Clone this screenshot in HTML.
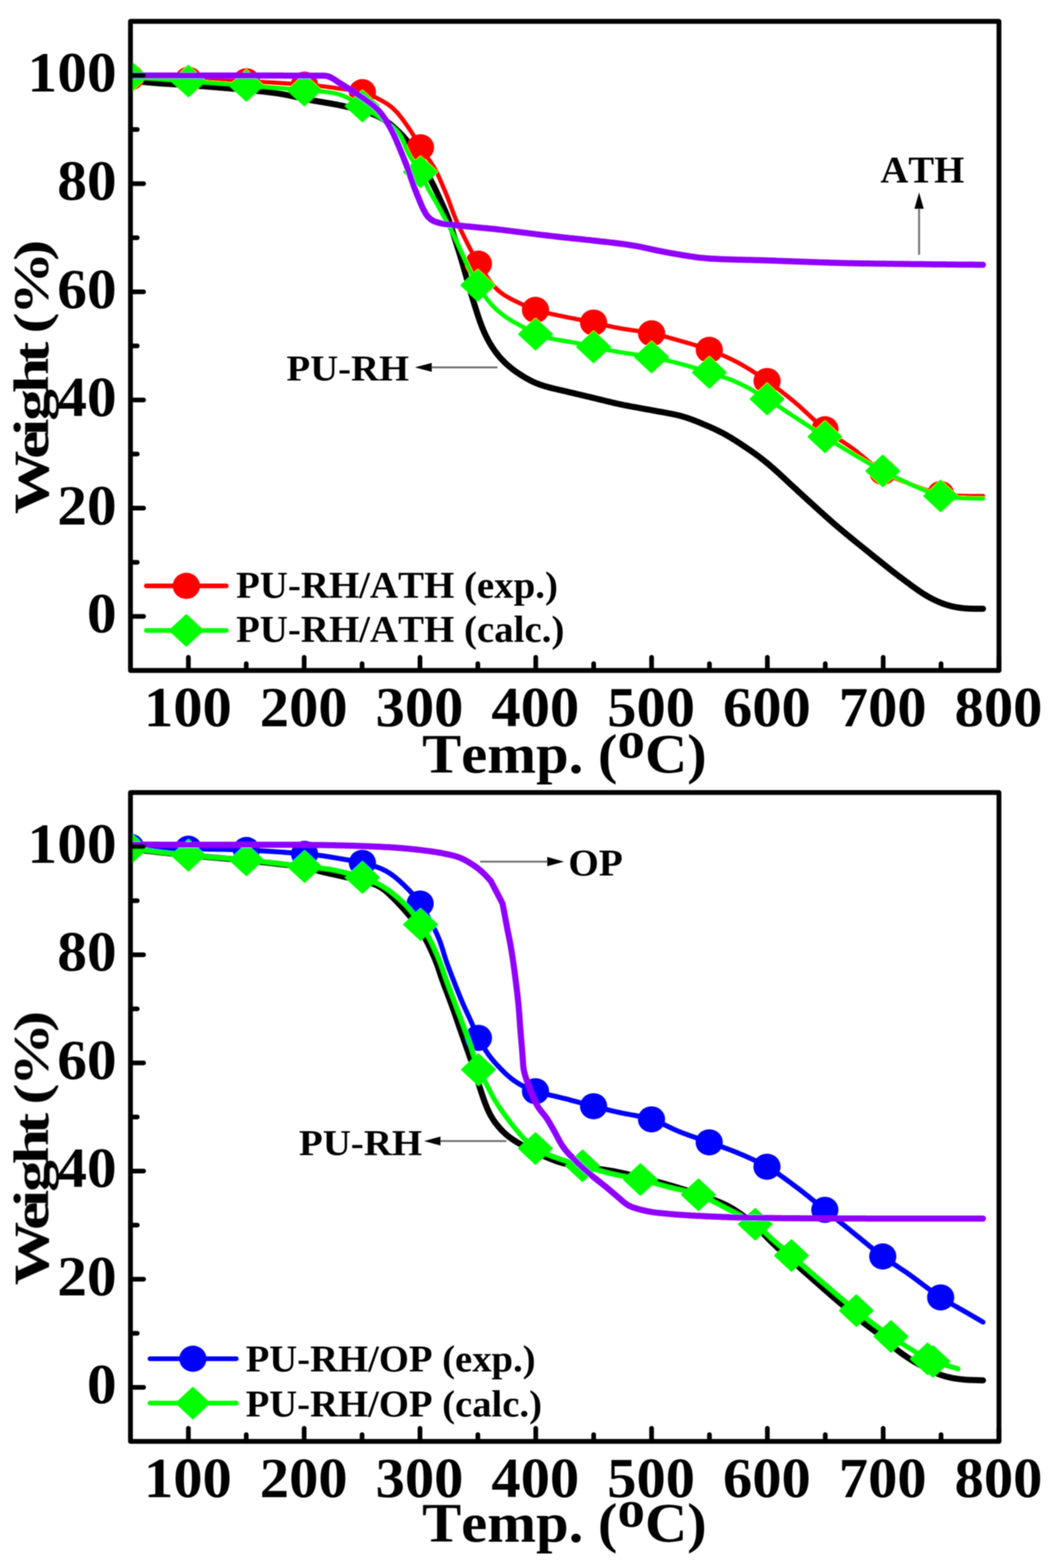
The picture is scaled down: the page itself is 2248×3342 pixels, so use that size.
<!DOCTYPE html>
<html lang="en"><head><meta charset="utf-8"><title>TGA curves</title>
<style>html,body{margin:0;padding:0;background:#fff;overflow:hidden;}svg{display:block;}text{font-family:"Liberation Serif","DejaVu Serif",serif;font-weight:bold;fill:#000;font-kerning:none;}</style>
</head><body>
<svg xmlns="http://www.w3.org/2000/svg" width="2248" height="3342" viewBox="0 0 2248 3342">
<rect width="2248" height="3342" fill="#fff"/>
<defs><filter id="b" x="-2%" y="-2%" width="104%" height="104%"><feGaussianBlur stdDeviation="1.0"/></filter></defs>
<g filter="url(#b)">
<g id="top">
<clipPath id="clip_top"><rect x="278.0" y="45.5" width="1850.6" height="1383.5"/></clipPath>
<g clip-path="url(#clip_top)" fill="none" stroke-linecap="round" stroke-linejoin="round">
<path d="M278.0,172.0 282.0,172.4 286.0,172.8 289.9,173.2 293.9,173.6 297.9,174.0 301.9,174.3 305.9,174.7 309.9,175.1 313.8,175.5 317.8,175.8 321.8,176.1 325.8,176.5 329.8,176.8 333.8,177.1 337.8,177.4 341.8,177.7 345.7,177.9 349.7,178.2 353.7,178.5 357.7,178.8 361.7,179.0 365.7,179.3 369.7,179.5 373.7,179.8 377.7,180.1 381.7,180.3 385.7,180.6 389.7,180.8 393.7,181.1 397.6,181.3 401.6,181.6 405.6,181.9 409.6,182.1 413.6,182.4 417.6,182.7 421.6,183.0 425.6,183.2 429.6,183.5 433.6,183.8 437.6,184.1 441.5,184.4 445.5,184.7 449.5,185.1 453.5,185.4 457.5,185.7 461.5,186.0 465.5,186.4 469.5,186.7 473.4,187.0 477.4,187.4 481.4,187.7 485.4,188.0 489.4,188.4 493.4,188.7 497.4,189.0 501.3,189.4 505.3,189.7 509.3,190.1 513.3,190.4 517.3,190.8 521.3,191.1 525.3,191.5 529.2,191.8 533.2,192.2 537.2,192.6 541.2,193.0 545.2,193.4 549.1,193.8 553.1,194.2 557.1,194.6 561.1,195.1 565.1,195.5 569.0,196.0 573.0,196.5 577.0,197.0 580.9,197.5 584.9,198.0 588.9,198.6 592.8,199.2 596.8,199.9 600.7,200.5 604.6,201.2 608.6,202.0 612.5,202.7 616.4,203.5 620.3,204.4 624.2,205.2 628.2,206.1 632.1,207.0 636.0,207.8 639.9,208.7 643.8,209.6 647.7,210.4 651.6,211.3 655.5,212.1 659.4,212.8 663.4,213.6 667.3,214.3 671.2,215.0 675.2,215.7 679.1,216.3 683.1,217.0 687.0,217.6 691.0,218.3 694.9,219.0 698.9,219.6 702.8,220.3 706.7,221.0 710.7,221.8 714.6,222.5 718.5,223.2 722.5,224.0 726.4,224.8 730.3,225.6 734.2,226.5 738.1,227.4 742.0,228.3 745.9,229.2 749.8,230.1 753.7,231.1 757.6,232.0 761.4,233.0 765.3,234.0 769.2,235.0 773.0,236.1 776.9,237.2 780.7,238.4 784.5,239.6 788.3,240.9 792.1,242.2 795.8,243.7 799.5,245.2 803.1,246.9 806.7,248.6 810.3,250.5 813.7,252.4 817.2,254.5 820.6,256.6 823.9,258.9 827.1,261.2 830.3,263.6 833.4,266.2 836.4,268.8 839.4,271.4 842.4,274.1 845.3,276.9 848.2,279.6 851.1,282.4 853.9,285.2 856.7,288.1 859.5,291.0 862.1,294.0 864.7,297.0 867.3,300.0 869.7,303.2 872.0,306.4 874.3,309.7 876.4,313.1 878.5,316.5 880.5,320.0 882.5,323.4 884.5,326.9 886.5,330.4 888.5,333.9 890.5,337.3 892.6,340.8 894.6,344.2 896.6,347.7 898.7,351.1 900.7,354.5 902.7,358.0 904.8,361.4 906.8,364.9 908.9,368.3 910.9,371.8 912.9,375.2 914.8,378.7 916.8,382.2 918.7,385.7 920.6,389.3 922.4,392.8 924.2,396.4 926.0,400.0 927.7,403.6 929.4,407.2 931.1,410.8 932.7,414.5 934.4,418.1 936.0,421.8 937.7,425.4 939.3,429.0 941.0,432.7 942.7,436.3 944.3,440.0 945.9,443.6 947.6,447.3 949.1,451.0 950.7,454.7 952.2,458.4 953.7,462.1 955.1,465.8 956.5,469.6 957.8,473.3 959.1,477.1 960.3,480.9 961.6,484.7 962.8,488.5 964.0,492.4 965.2,496.2 966.4,500.0 967.6,503.8 968.8,507.6 970.0,511.4 971.3,515.2 972.5,519.0 973.7,522.9 974.9,526.7 976.1,530.5 977.3,534.3 978.5,538.1 979.7,541.9 980.9,545.8 982.0,549.6 983.2,553.4 984.3,557.3 985.4,561.1 986.6,564.9 987.7,568.8 988.8,572.6 989.9,576.5 991.0,580.3 992.1,584.2 993.2,588.0 994.3,591.9 995.4,595.7 996.5,599.6 997.6,603.4 998.6,607.3 999.7,611.1 1000.8,615.0 1001.9,618.8 1003.0,622.6 1004.1,626.5 1005.3,630.3 1006.4,634.2 1007.6,638.0 1008.7,641.8 1009.9,645.7 1011.1,649.5 1012.3,653.3 1013.5,657.1 1014.7,660.9 1015.9,664.7 1017.1,668.5 1018.4,672.3 1019.6,676.1 1020.9,679.9 1022.2,683.7 1023.6,687.5 1025.0,691.2 1026.4,695.0 1027.8,698.7 1029.4,702.4 1030.9,706.1 1032.6,709.7 1034.2,713.3 1036.0,716.9 1037.8,720.5 1039.6,724.1 1041.6,727.6 1043.5,731.1 1045.6,734.5 1047.7,737.9 1049.8,741.3 1052.1,744.6 1054.4,747.9 1056.7,751.1 1059.2,754.3 1061.7,757.4 1064.3,760.4 1066.9,763.4 1069.6,766.4 1072.4,769.3 1075.2,772.1 1078.1,774.9 1081.0,777.6 1084.0,780.2 1087.1,782.8 1090.2,785.3 1093.4,787.8 1096.6,790.2 1099.8,792.5 1103.1,794.7 1106.5,797.0 1109.8,799.1 1113.2,801.2 1116.6,803.3 1120.1,805.3 1123.6,807.3 1127.1,809.2 1130.6,811.1 1134.2,812.9 1137.8,814.6 1141.5,816.2 1145.2,817.7 1148.9,819.1 1152.7,820.5 1156.5,821.7 1160.3,822.9 1164.1,824.0 1168.0,825.1 1171.9,826.1 1175.7,827.1 1179.6,828.1 1183.5,829.0 1187.4,829.9 1191.3,830.8 1195.2,831.7 1199.1,832.6 1203.0,833.5 1206.9,834.4 1210.8,835.4 1214.7,836.3 1218.6,837.2 1222.5,838.1 1226.4,839.1 1230.3,840.0 1234.1,840.9 1238.0,841.8 1241.9,842.7 1245.8,843.7 1249.7,844.6 1253.6,845.5 1257.5,846.4 1261.4,847.4 1265.3,848.3 1269.2,849.2 1273.1,850.2 1276.9,851.1 1280.8,852.1 1284.7,853.0 1288.6,854.0 1292.5,855.0 1296.4,855.9 1300.3,856.8 1304.2,857.8 1308.1,858.7 1312.0,859.6 1315.9,860.5 1319.8,861.3 1323.7,862.2 1327.6,863.0 1331.5,863.8 1335.4,864.5 1339.4,865.3 1343.3,866.0 1347.2,866.8 1351.2,867.5 1355.1,868.2 1359.0,868.9 1363.0,869.6 1366.9,870.3 1370.8,871.1 1374.8,871.8 1378.7,872.5 1382.7,873.2 1386.6,873.9 1390.5,874.6 1394.5,875.4 1398.4,876.1 1402.3,876.8 1406.3,877.5 1410.2,878.2 1414.1,878.9 1418.1,879.6 1422.0,880.4 1425.9,881.1 1429.9,881.9 1433.8,882.6 1437.7,883.5 1441.6,884.3 1445.5,885.3 1449.4,886.2 1453.2,887.3 1457.1,888.4 1460.9,889.6 1464.7,890.8 1468.5,892.1 1472.2,893.5 1476.0,894.9 1479.7,896.3 1483.4,897.8 1487.2,899.3 1490.9,900.8 1494.6,902.3 1498.3,903.9 1502.0,905.4 1505.6,907.0 1509.3,908.5 1513.0,910.1 1516.6,911.8 1520.3,913.4 1523.9,915.1 1527.5,916.8 1531.1,918.6 1534.7,920.4 1538.2,922.2 1541.8,924.1 1545.3,926.0 1548.8,928.0 1552.2,930.0 1555.7,932.0 1559.1,934.1 1562.5,936.2 1565.9,938.3 1569.3,940.5 1572.6,942.6 1576.0,944.8 1579.3,947.0 1582.6,949.2 1586.0,951.5 1589.3,953.7 1592.6,955.9 1595.9,958.2 1599.2,960.4 1602.5,962.7 1605.8,965.0 1609.1,967.3 1612.3,969.7 1615.5,972.0 1618.7,974.5 1621.9,976.9 1625.0,979.4 1628.2,981.8 1631.3,984.4 1634.4,986.9 1637.5,989.4 1640.5,992.0 1643.5,994.6 1646.6,997.2 1649.6,999.9 1652.6,1002.6 1655.5,1005.2 1658.5,1007.9 1661.4,1010.6 1664.4,1013.4 1667.3,1016.1 1670.2,1018.8 1673.2,1021.5 1676.1,1024.2 1679.0,1026.9 1682.0,1029.7 1684.9,1032.4 1687.8,1035.1 1690.8,1037.8 1693.7,1040.5 1696.7,1043.2 1699.6,1046.0 1702.5,1048.7 1705.5,1051.4 1708.4,1054.1 1711.4,1056.8 1714.3,1059.5 1717.3,1062.2 1720.2,1064.9 1723.2,1067.6 1726.1,1070.3 1729.1,1073.0 1732.1,1075.7 1735.0,1078.4 1738.0,1081.1 1740.9,1083.8 1743.9,1086.5 1746.8,1089.1 1749.8,1091.8 1752.8,1094.5 1755.8,1097.2 1758.7,1099.9 1761.7,1102.5 1764.7,1105.2 1767.7,1107.9 1770.7,1110.5 1773.7,1113.1 1776.7,1115.8 1779.7,1118.4 1782.8,1121.0 1785.8,1123.6 1788.8,1126.2 1791.9,1128.8 1795.0,1131.3 1798.0,1133.9 1801.1,1136.5 1804.2,1139.0 1807.3,1141.6 1810.4,1144.1 1813.5,1146.6 1816.6,1149.1 1819.7,1151.7 1822.8,1154.2 1825.9,1156.7 1829.0,1159.2 1832.1,1161.7 1835.2,1164.2 1838.4,1166.8 1841.5,1169.3 1844.6,1171.8 1847.7,1174.3 1850.8,1176.8 1853.9,1179.3 1857.0,1181.9 1860.1,1184.4 1863.2,1186.9 1866.4,1189.4 1869.5,1191.9 1872.6,1194.4 1875.7,1196.9 1878.8,1199.4 1882.0,1201.9 1885.1,1204.4 1888.2,1206.9 1891.4,1209.4 1894.5,1211.9 1897.6,1214.3 1900.8,1216.8 1903.9,1219.3 1907.1,1221.7 1910.3,1224.1 1913.5,1226.6 1916.6,1229.0 1919.8,1231.4 1923.0,1233.8 1926.3,1236.2 1929.5,1238.6 1932.7,1241.0 1935.9,1243.3 1939.1,1245.7 1942.3,1248.1 1945.6,1250.5 1948.8,1252.8 1952.1,1255.1 1955.3,1257.4 1958.6,1259.7 1961.9,1261.9 1965.3,1264.1 1968.7,1266.3 1972.1,1268.4 1975.5,1270.4 1979.0,1272.4 1982.5,1274.3 1986.0,1276.2 1989.6,1278.0 1993.2,1279.8 1996.8,1281.4 2000.5,1283.0 2004.2,1284.5 2007.9,1286.0 2011.7,1287.3 2015.5,1288.6 2019.3,1289.8 2023.1,1290.9 2027.0,1291.9 2030.9,1292.8 2034.8,1293.6 2038.8,1294.3 2042.7,1295.0 2046.7,1295.5 2050.6,1296.0 2054.6,1296.4 2058.6,1296.7 2062.6,1297.0 2066.6,1297.2 2070.6,1297.3 2074.6,1297.4 2078.6,1297.5 2082.6,1297.5 2086.6,1297.5 2090.6,1297.5 2094.6,1297.6" stroke="#000" stroke-width="13"/>
<path d="M278.0,165.0 282.0,165.2 286.0,165.3 290.0,165.5 294.0,165.7 298.0,165.8 302.0,166.0 306.0,166.2 310.0,166.3 314.0,166.5 318.0,166.7 322.0,166.8 326.0,167.0 330.0,167.2 334.0,167.4 338.0,167.5 342.0,167.7 346.0,167.9 350.0,168.0 354.0,168.2 358.0,168.4 362.0,168.5 365.9,168.7 369.9,168.8 373.9,169.0 377.9,169.2 381.9,169.3 385.9,169.5 389.9,169.6 393.9,169.7 397.9,169.9 401.9,170.0 405.9,170.1 409.9,170.3 413.9,170.4 417.9,170.5 421.9,170.6 425.9,170.7 429.9,170.8 433.9,170.9 437.9,171.0 441.9,171.1 445.9,171.2 449.9,171.2 453.9,171.3 457.9,171.4 461.9,171.5 465.9,171.6 469.9,171.7 473.9,171.7 477.9,171.8 481.9,171.9 485.9,172.0 489.9,172.1 493.9,172.2 497.9,172.3 501.9,172.5 505.9,172.6 509.9,172.7 513.9,172.9 517.9,173.0 521.9,173.2 525.9,173.3 529.9,173.5 533.9,173.7 537.9,173.9 541.9,174.1 545.9,174.3 549.9,174.5 553.9,174.7 557.9,174.9 561.9,175.1 565.9,175.3 569.9,175.5 573.9,175.7 577.9,176.0 581.9,176.2 585.9,176.4 589.9,176.7 593.9,176.9 597.8,177.1 601.8,177.4 605.8,177.6 609.8,177.9 613.8,178.1 617.8,178.4 621.8,178.6 625.8,178.9 629.8,179.2 633.8,179.4 637.8,179.7 641.8,180.0 645.8,180.3 649.7,180.6 653.7,180.9 657.7,181.2 661.7,181.5 665.7,181.8 669.7,182.2 673.7,182.6 677.7,183.0 681.6,183.4 685.6,183.8 689.6,184.3 693.6,184.8 697.5,185.3 701.5,185.8 705.5,186.3 709.4,186.9 713.4,187.4 717.3,188.0 721.3,188.5 725.3,189.0 729.3,189.5 733.2,190.0 737.2,190.5 741.2,191.0 745.1,191.5 749.1,192.0 753.1,192.6 757.0,193.2 761.0,193.9 764.9,194.8 768.7,195.7 772.6,196.7 776.4,197.9 780.2,199.2 784.0,200.5 787.7,202.0 791.4,203.6 795.0,205.2 798.7,206.9 802.3,208.7 805.8,210.5 809.4,212.3 812.9,214.2 816.4,216.2 819.8,218.3 823.2,220.4 826.6,222.6 829.8,224.9 833.0,227.4 836.0,229.9 839.0,232.6 841.8,235.4 844.6,238.2 847.3,241.2 849.9,244.3 852.4,247.4 854.8,250.5 857.3,253.7 859.7,256.9 862.0,260.2 864.4,263.4 866.7,266.7 869.0,270.0 871.2,273.3 873.5,276.6 875.7,279.9 877.8,283.3 879.9,286.7 882.0,290.1 884.0,293.6 886.0,297.0 888.0,300.5 890.1,304.0 892.1,307.4 894.2,310.8 896.3,314.2 898.4,317.6 900.6,320.9 902.8,324.3 905.1,327.6 907.4,330.9 909.6,334.1 911.9,337.4 914.2,340.7 916.5,344.0 918.8,347.3 920.9,350.7 923.1,354.0 925.2,357.5 927.1,360.9 929.0,364.4 930.9,368.0 932.6,371.6 934.3,375.2 935.9,378.9 937.6,382.5 939.1,386.2 940.7,389.9 942.3,393.6 943.8,397.3 945.4,400.9 947.0,404.6 948.6,408.3 950.1,412.0 951.6,415.7 953.1,419.4 954.6,423.1 956.0,426.9 957.4,430.6 958.7,434.4 960.1,438.1 961.4,441.9 962.8,445.7 964.2,449.4 965.6,453.2 967.0,456.9 968.5,460.6 970.0,464.3 971.6,468.0 973.2,471.7 974.8,475.3 976.5,479.0 978.2,482.6 979.9,486.2 981.6,489.8 983.4,493.4 985.1,497.0 986.9,500.6 988.6,504.2 990.4,507.8 992.2,511.4 994.0,515.0 995.7,518.5 997.5,522.1 999.4,525.7 1001.2,529.2 1003.0,532.8 1004.9,536.3 1006.8,539.9 1008.7,543.4 1010.6,546.9 1012.6,550.4 1014.6,553.8 1016.6,557.3 1018.6,560.7 1020.7,564.2 1022.8,567.6 1024.9,571.0 1027.1,574.3 1029.2,577.7 1031.4,581.1 1033.6,584.4 1035.8,587.8 1038.0,591.1 1040.3,594.4 1042.6,597.7 1045.0,600.9 1047.4,604.0 1050.0,607.1 1052.6,610.1 1055.3,613.0 1058.2,615.8 1061.1,618.6 1064.1,621.2 1067.2,623.7 1070.4,626.1 1073.7,628.4 1077.1,630.5 1080.5,632.6 1084.0,634.6 1087.5,636.5 1091.0,638.4 1094.6,640.2 1098.2,641.9 1101.8,643.7 1105.4,645.4 1109.1,647.1 1112.7,648.7 1116.3,650.4 1120.0,652.0 1123.6,653.7 1127.3,655.2 1131.0,656.7 1134.8,658.2 1138.5,659.6 1142.3,660.8 1146.1,662.0 1149.9,663.2 1153.8,664.2 1157.7,665.2 1161.6,666.2 1165.5,667.1 1169.4,668.0 1173.3,668.8 1177.2,669.7 1181.1,670.5 1185.0,671.3 1188.9,672.2 1192.8,673.0 1196.8,673.8 1200.7,674.6 1204.6,675.4 1208.5,676.2 1212.4,677.0 1216.4,677.7 1220.3,678.5 1224.2,679.3 1228.1,680.1 1232.1,680.8 1236.0,681.6 1239.9,682.4 1243.8,683.2 1247.8,684.0 1251.7,684.8 1255.6,685.7 1259.5,686.5 1263.4,687.3 1267.3,688.2 1271.2,689.0 1275.1,689.9 1279.0,690.8 1282.9,691.7 1286.9,692.6 1290.8,693.4 1294.7,694.3 1298.6,695.2 1302.5,696.0 1306.4,696.9 1310.3,697.7 1314.2,698.4 1318.2,699.2 1322.1,699.9 1326.0,700.6 1330.0,701.2 1333.9,701.8 1337.9,702.4 1341.9,703.0 1345.8,703.6 1349.8,704.1 1353.7,704.7 1357.7,705.3 1361.7,705.9 1365.6,706.5 1369.6,707.1 1373.5,707.7 1377.5,708.4 1381.4,709.2 1385.3,709.9 1389.2,710.7 1393.2,711.5 1397.1,712.4 1401.0,713.3 1404.8,714.3 1408.7,715.2 1412.6,716.2 1416.5,717.3 1420.3,718.3 1424.2,719.3 1428.0,720.4 1431.9,721.5 1435.8,722.6 1439.6,723.7 1443.5,724.8 1447.3,725.9 1451.1,727.0 1455.0,728.0 1458.8,729.1 1462.7,730.2 1466.5,731.3 1470.4,732.4 1474.2,733.6 1478.1,734.7 1481.9,735.8 1485.7,737.0 1489.5,738.2 1493.4,739.4 1497.2,740.7 1500.9,742.0 1504.7,743.3 1508.5,744.6 1512.2,746.0 1516.0,747.4 1519.7,748.9 1523.4,750.3 1527.2,751.8 1530.9,753.4 1534.5,754.9 1538.2,756.5 1541.9,758.1 1545.5,759.7 1549.2,761.4 1552.8,763.1 1556.4,764.8 1560.0,766.5 1563.6,768.3 1567.2,770.1 1570.7,772.0 1574.2,773.9 1577.7,775.8 1581.2,777.8 1584.7,779.8 1588.1,781.8 1591.6,783.9 1595.0,785.9 1598.4,788.0 1601.8,790.2 1605.1,792.3 1608.5,794.5 1611.9,796.7 1615.2,798.9 1618.5,801.1 1621.8,803.4 1625.1,805.6 1628.4,807.9 1631.7,810.2 1635.0,812.5 1638.3,814.8 1641.6,817.1 1644.8,819.4 1648.0,821.7 1651.3,824.1 1654.5,826.5 1657.7,828.9 1660.9,831.3 1664.1,833.7 1667.2,836.2 1670.4,838.6 1673.6,841.1 1676.7,843.6 1679.8,846.0 1682.9,848.6 1686.0,851.1 1689.1,853.6 1692.2,856.2 1695.3,858.8 1698.3,861.4 1701.3,864.0 1704.3,866.7 1707.3,869.4 1710.2,872.1 1713.1,874.8 1716.1,877.5 1719.0,880.3 1721.9,883.0 1724.8,885.7 1727.7,888.5 1730.7,891.2 1733.6,893.9 1736.5,896.6 1739.5,899.3 1742.5,902.0 1745.5,904.7 1748.5,907.3 1751.6,909.9 1754.6,912.4 1757.8,914.9 1760.9,917.4 1764.1,919.8 1767.3,922.2 1770.5,924.5 1773.8,926.9 1777.1,929.1 1780.4,931.4 1783.7,933.6 1787.0,935.9 1790.4,938.1 1793.7,940.3 1797.0,942.5 1800.4,944.7 1803.7,947.0 1807.0,949.2 1810.3,951.5 1813.6,953.8 1816.8,956.1 1820.0,958.5 1823.2,960.9 1826.4,963.3 1829.5,965.8 1832.6,968.3 1835.7,970.9 1838.8,973.4 1841.9,976.0 1844.9,978.6 1848.0,981.2 1851.0,983.8 1854.1,986.3 1857.2,988.9 1860.3,991.4 1863.5,993.8 1866.7,996.2 1869.9,998.6 1873.2,1000.9 1876.5,1003.1 1879.9,1005.2 1883.3,1007.3 1886.8,1009.3 1890.3,1011.2 1893.9,1013.0 1897.5,1014.8 1901.1,1016.5 1904.7,1018.1 1908.4,1019.7 1912.1,1021.2 1915.8,1022.7 1919.5,1024.2 1923.3,1025.7 1927.0,1027.1 1930.7,1028.5 1934.5,1029.9 1938.2,1031.4 1942.0,1032.8 1945.7,1034.2 1949.4,1035.6 1953.2,1037.0 1956.9,1038.4 1960.7,1039.8 1964.5,1041.1 1968.2,1042.5 1972.0,1043.8 1975.8,1045.1 1979.6,1046.3 1983.4,1047.5 1987.3,1048.7 1991.1,1049.8 1995.0,1050.8 1998.9,1051.7 2002.8,1052.6 2006.7,1053.4 2010.6,1054.0 2014.6,1054.6 2018.5,1055.1 2022.5,1055.5 2026.5,1055.9 2030.5,1056.2 2034.5,1056.4 2038.5,1056.6 2042.5,1056.8 2046.5,1056.9 2050.5,1057.0 2054.5,1057.1 2058.5,1057.2 2062.5,1057.3 2066.5,1057.3 2070.5,1057.4 2074.5,1057.4 2078.5,1057.4 2082.5,1057.4 2086.5,1057.3 2090.5,1057.3 2094.5,1057.3" stroke="#ff0000" stroke-width="9.2"/>
<ellipse cx="278.0" cy="165.0" rx="29.0" ry="27.9" fill="#ff0000" stroke="none"/>
<ellipse cx="401.5" cy="170.0" rx="29.0" ry="27.9" fill="#ff0000" stroke="none"/>
<ellipse cx="525.0" cy="173.3" rx="29.0" ry="27.9" fill="#ff0000" stroke="none"/>
<ellipse cx="648.6" cy="180.5" rx="29.0" ry="27.9" fill="#ff0000" stroke="none"/>
<ellipse cx="772.2" cy="196.5" rx="29.0" ry="27.9" fill="#ff0000" stroke="none"/>
<ellipse cx="896.0" cy="314.0" rx="29.0" ry="27.9" fill="#ff0000" stroke="none"/>
<ellipse cx="1019.4" cy="562.0" rx="29.0" ry="27.9" fill="#ff0000" stroke="none"/>
<ellipse cx="1141.0" cy="660.5" rx="29.0" ry="27.9" fill="#ff0000" stroke="none"/>
<ellipse cx="1264.8" cy="687.6" rx="29.0" ry="27.9" fill="#ff0000" stroke="none"/>
<ellipse cx="1388.4" cy="710.5" rx="29.0" ry="27.9" fill="#ff0000" stroke="none"/>
<ellipse cx="1511.4" cy="745.7" rx="29.0" ry="27.9" fill="#ff0000" stroke="none"/>
<ellipse cx="1634.5" cy="812.1" rx="29.0" ry="27.9" fill="#ff0000" stroke="none"/>
<ellipse cx="1757.8" cy="915.0" rx="29.0" ry="27.9" fill="#ff0000" stroke="none"/>
<ellipse cx="1881.0" cy="1006.0" rx="29.0" ry="27.9" fill="#ff0000" stroke="none"/>
<ellipse cx="2004.4" cy="1053.0" rx="29.0" ry="27.9" fill="#ff0000" stroke="none"/>
<path d="M278.0,163.5 282.0,163.8 286.0,164.1 290.0,164.4 294.0,164.7 297.9,165.0 301.9,165.3 305.9,165.6 309.9,165.9 313.9,166.2 317.9,166.5 321.9,166.8 325.9,167.1 329.9,167.4 333.9,167.7 337.8,168.0 341.8,168.2 345.8,168.5 349.8,168.8 353.8,169.1 357.8,169.4 361.8,169.7 365.8,170.0 369.8,170.3 373.8,170.6 377.7,170.9 381.7,171.2 385.7,171.5 389.7,171.8 393.7,172.1 397.7,172.4 401.7,172.7 405.7,173.0 409.7,173.3 413.6,173.6 417.6,173.9 421.6,174.2 425.6,174.5 429.6,174.8 433.6,175.1 437.6,175.4 441.6,175.7 445.6,176.0 449.6,176.3 453.5,176.6 457.5,176.9 461.5,177.2 465.5,177.5 469.5,177.8 473.5,178.1 477.5,178.4 481.5,178.7 485.5,179.0 489.4,179.3 493.4,179.6 497.4,179.9 501.4,180.2 505.4,180.5 509.4,180.8 513.4,181.1 517.4,181.4 521.4,181.7 525.3,182.0 529.3,182.3 533.3,182.7 537.3,183.0 541.3,183.3 545.3,183.6 549.3,183.9 553.3,184.2 557.3,184.6 561.2,184.9 565.2,185.2 569.2,185.5 573.2,185.8 577.2,186.2 581.2,186.5 585.2,186.8 589.2,187.1 593.1,187.5 597.1,187.8 601.1,188.1 605.1,188.4 609.1,188.8 613.1,189.1 617.1,189.4 621.1,189.8 625.0,190.1 629.0,190.4 633.0,190.7 637.0,191.1 641.0,191.4 645.0,191.7 649.0,192.0 653.0,192.3 656.9,192.6 660.9,192.9 664.9,193.2 668.9,193.5 672.9,193.8 676.9,194.1 680.9,194.5 684.9,194.9 688.8,195.3 692.8,195.7 696.8,196.2 700.8,196.7 704.7,197.3 708.7,198.0 712.6,198.7 716.5,199.6 720.3,200.6 724.2,201.8 727.9,203.0 731.7,204.4 735.4,206.0 739.0,207.6 742.7,209.3 746.2,211.1 749.8,212.9 753.3,214.8 756.8,216.8 760.3,218.8 763.7,220.8 767.2,222.9 770.6,225.0 774.0,227.1 777.4,229.2 780.8,231.3 784.1,233.5 787.5,235.6 790.9,237.8 794.2,240.0 797.6,242.2 800.9,244.4 804.2,246.6 807.5,248.9 810.8,251.2 814.1,253.5 817.3,255.8 820.5,258.2 823.8,260.6 826.9,263.0 830.1,265.5 833.2,268.0 836.3,270.5 839.3,273.2 842.2,276.0 845.0,278.9 847.5,281.9 849.9,285.0 852.1,288.3 854.2,291.7 856.0,295.2 857.8,298.8 859.4,302.4 861.0,306.1 862.5,309.8 864.1,313.5 865.6,317.2 867.3,320.9 869.0,324.5 870.8,328.1 872.7,331.6 874.7,335.0 876.8,338.4 879.0,341.8 881.2,345.1 883.5,348.4 885.9,351.6 888.2,354.9 890.5,358.1 892.7,361.5 894.8,364.8 896.8,368.3 898.6,371.8 900.4,375.4 902.0,379.1 903.6,382.7 905.1,386.4 906.7,390.1 908.3,393.8 910.0,397.4 911.7,401.0 913.6,404.5 915.5,408.0 917.5,411.5 919.5,415.0 921.6,418.4 923.6,421.8 925.7,425.3 927.7,428.7 929.7,432.2 931.7,435.7 933.6,439.2 935.5,442.7 937.4,446.2 939.3,449.7 941.1,453.3 943.0,456.8 944.9,460.3 946.8,463.9 948.7,467.4 950.6,470.9 952.5,474.4 954.4,478.0 956.3,481.5 958.1,485.0 960.0,488.5 961.9,492.1 963.7,495.6 965.5,499.2 967.3,502.8 969.1,506.4 970.8,510.0 972.6,513.6 974.3,517.2 975.9,520.8 977.6,524.5 979.3,528.1 980.9,531.7 982.6,535.4 984.2,539.0 985.9,542.7 987.5,546.3 989.2,550.0 990.9,553.6 992.6,557.2 994.2,560.9 995.9,564.5 997.6,568.1 999.4,571.7 1001.1,575.3 1002.8,578.9 1004.6,582.5 1006.4,586.1 1008.2,589.7 1010.0,593.2 1011.9,596.7 1013.8,600.3 1015.8,603.7 1017.8,607.2 1019.8,610.7 1021.9,614.1 1024.0,617.5 1026.2,620.8 1028.4,624.2 1030.6,627.5 1032.9,630.8 1035.2,634.0 1037.6,637.3 1040.0,640.4 1042.5,643.5 1045.1,646.6 1047.8,649.6 1050.5,652.5 1053.3,655.3 1056.2,658.1 1059.1,660.8 1062.1,663.5 1065.2,666.0 1068.3,668.6 1071.5,671.0 1074.7,673.4 1077.9,675.8 1081.2,678.0 1084.6,680.2 1087.9,682.3 1091.4,684.4 1094.9,686.4 1098.4,688.3 1101.9,690.2 1105.4,692.1 1108.9,694.0 1112.4,696.0 1115.9,698.0 1119.3,700.0 1122.7,702.0 1126.2,704.1 1129.6,706.1 1133.1,708.0 1136.7,709.9 1140.3,711.6 1143.9,713.2 1147.6,714.6 1151.4,715.9 1155.2,717.0 1159.1,718.0 1163.0,719.0 1166.9,719.9 1170.8,720.8 1174.7,721.6 1178.7,722.4 1182.6,723.2 1186.5,724.0 1190.4,724.7 1194.4,725.4 1198.3,726.1 1202.3,726.8 1206.2,727.4 1210.1,728.1 1214.1,728.7 1218.0,729.4 1222.0,730.0 1225.9,730.7 1229.9,731.5 1233.8,732.3 1237.7,733.1 1241.6,734.0 1245.5,734.9 1249.4,735.8 1253.3,736.7 1257.2,737.6 1261.1,738.5 1265.0,739.4 1268.9,740.3 1272.8,741.1 1276.7,742.0 1280.6,742.8 1284.5,743.6 1288.4,744.4 1292.4,745.3 1296.3,746.1 1300.2,746.8 1304.1,747.6 1308.1,748.4 1312.0,749.1 1315.9,749.8 1319.9,750.5 1323.8,751.1 1327.8,751.8 1331.7,752.4 1335.7,753.0 1339.6,753.5 1343.6,754.1 1347.6,754.6 1351.5,755.2 1355.5,755.7 1359.4,756.3 1363.4,756.9 1367.4,757.5 1371.3,758.1 1375.3,758.7 1379.2,759.4 1383.2,760.1 1387.1,760.8 1391.0,761.5 1394.9,762.3 1398.9,763.1 1402.8,764.0 1406.7,764.8 1410.6,765.7 1414.5,766.6 1418.4,767.5 1422.3,768.5 1426.1,769.4 1430.0,770.4 1433.9,771.4 1437.8,772.4 1441.7,773.4 1445.5,774.4 1449.4,775.4 1453.2,776.5 1457.1,777.5 1461.0,778.6 1464.8,779.7 1468.7,780.8 1472.5,781.9 1476.4,783.0 1480.2,784.1 1484.0,785.2 1487.9,786.4 1491.7,787.6 1495.5,788.7 1499.3,789.9 1503.1,791.1 1507.0,792.4 1510.8,793.6 1514.6,794.8 1518.4,796.0 1522.2,797.3 1526.0,798.5 1529.8,799.8 1533.6,801.1 1537.4,802.3 1541.1,803.6 1544.9,805.0 1548.7,806.3 1552.4,807.7 1556.2,809.1 1559.9,810.6 1563.6,812.1 1567.3,813.7 1570.9,815.3 1574.6,816.9 1578.2,818.6 1581.8,820.4 1585.4,822.2 1588.9,824.0 1592.5,825.9 1596.0,827.8 1599.5,829.8 1603.0,831.7 1606.4,833.7 1609.9,835.7 1613.4,837.7 1616.8,839.8 1620.2,841.8 1623.7,843.8 1627.1,845.9 1630.5,848.0 1633.9,850.1 1637.4,852.2 1640.7,854.3 1644.1,856.4 1647.5,858.5 1650.9,860.7 1654.2,862.9 1657.6,865.1 1660.9,867.3 1664.2,869.5 1667.6,871.7 1670.9,874.0 1674.2,876.2 1677.5,878.4 1680.9,880.6 1684.2,882.8 1687.5,885.0 1690.9,887.3 1694.2,889.5 1697.6,891.7 1700.9,893.8 1704.2,896.0 1707.6,898.2 1710.9,900.4 1714.3,902.6 1717.6,904.8 1721.0,907.0 1724.3,909.2 1727.7,911.4 1731.0,913.6 1734.3,915.8 1737.7,918.0 1741.1,920.2 1744.4,922.3 1747.8,924.5 1751.1,926.7 1754.5,928.8 1757.9,931.0 1761.3,933.1 1764.7,935.2 1768.1,937.4 1771.4,939.5 1774.8,941.6 1778.2,943.7 1781.6,945.8 1785.0,947.9 1788.5,950.0 1791.9,952.1 1795.3,954.2 1798.7,956.2 1802.1,958.3 1805.6,960.4 1809.0,962.4 1812.4,964.5 1815.9,966.5 1819.3,968.6 1822.7,970.6 1826.2,972.7 1829.6,974.7 1833.1,976.7 1836.5,978.8 1840.0,980.8 1843.4,982.8 1846.9,984.8 1850.3,986.8 1853.8,988.8 1857.3,990.8 1860.8,992.8 1864.3,994.7 1867.8,996.7 1871.3,998.6 1874.8,1000.5 1878.3,1002.4 1881.8,1004.2 1885.4,1006.1 1889.0,1007.9 1892.5,1009.7 1896.1,1011.5 1899.7,1013.3 1903.3,1015.1 1906.9,1016.8 1910.5,1018.6 1914.1,1020.3 1917.7,1022.0 1921.3,1023.7 1925.0,1025.3 1928.6,1027.0 1932.3,1028.6 1935.9,1030.2 1939.6,1031.8 1943.2,1033.5 1946.9,1035.1 1950.6,1036.7 1954.2,1038.3 1957.9,1039.9 1961.6,1041.5 1965.3,1043.0 1968.9,1044.6 1972.6,1046.1 1976.3,1047.7 1980.1,1049.1 1983.8,1050.5 1987.6,1051.9 1991.4,1053.2 1995.2,1054.4 1999.0,1055.5 2002.9,1056.5 2006.8,1057.4 2010.7,1058.2 2014.6,1058.9 2018.6,1059.4 2022.5,1059.9 2026.5,1060.3 2030.5,1060.6 2034.5,1060.8 2038.5,1061.0 2042.5,1061.2 2046.5,1061.4 2050.5,1061.6 2054.5,1061.7 2058.5,1061.8 2062.5,1062.0 2066.5,1062.1 2070.5,1062.2 2074.5,1062.3 2078.5,1062.3 2082.5,1062.4 2086.5,1062.4 2090.5,1062.4 2094.5,1062.5" stroke="#00ff00" stroke-width="9.2"/>
<path d="M243.0,163.5 L278.0,130.9 L313.0,163.5 L278.0,196.1Z" fill="#00ff00" stroke="#00ff00" stroke-width="4" stroke-linejoin="round"/>
<path d="M366.5,172.7 L401.5,140.1 L436.5,172.7 L401.5,205.3Z" fill="#00ff00" stroke="#00ff00" stroke-width="4" stroke-linejoin="round"/>
<path d="M490.0,182.0 L525.0,149.4 L560.0,182.0 L525.0,214.6Z" fill="#00ff00" stroke="#00ff00" stroke-width="4" stroke-linejoin="round"/>
<path d="M613.6,192.0 L648.6,159.4 L683.6,192.0 L648.6,224.6Z" fill="#00ff00" stroke="#00ff00" stroke-width="4" stroke-linejoin="round"/>
<path d="M737.2,226.0 L772.2,193.4 L807.2,226.0 L772.2,258.6Z" fill="#00ff00" stroke="#00ff00" stroke-width="4" stroke-linejoin="round"/>
<path d="M861.0,366.2 L896.0,333.6 L931.0,366.2 L896.0,398.8Z" fill="#00ff00" stroke="#00ff00" stroke-width="4" stroke-linejoin="round"/>
<path d="M983.2,608.0 L1018.2,575.4 L1053.2,608.0 L1018.2,640.6Z" fill="#00ff00" stroke="#00ff00" stroke-width="4" stroke-linejoin="round"/>
<path d="M1106.1,712.3 L1141.1,679.7 L1176.1,712.3 L1141.1,744.9Z" fill="#00ff00" stroke="#00ff00" stroke-width="4" stroke-linejoin="round"/>
<path d="M1229.8,739.4 L1264.8,706.8 L1299.8,739.4 L1264.8,772.0Z" fill="#00ff00" stroke="#00ff00" stroke-width="4" stroke-linejoin="round"/>
<path d="M1353.4,761.0 L1388.4,728.4 L1423.4,761.0 L1388.4,793.6Z" fill="#00ff00" stroke="#00ff00" stroke-width="4" stroke-linejoin="round"/>
<path d="M1476.4,793.8 L1511.4,761.2 L1546.4,793.8 L1511.4,826.4Z" fill="#00ff00" stroke="#00ff00" stroke-width="4" stroke-linejoin="round"/>
<path d="M1599.5,850.4 L1634.5,817.8 L1669.5,850.4 L1634.5,883.0Z" fill="#00ff00" stroke="#00ff00" stroke-width="4" stroke-linejoin="round"/>
<path d="M1722.8,930.9 L1757.8,898.3 L1792.8,930.9 L1757.8,963.5Z" fill="#00ff00" stroke="#00ff00" stroke-width="4" stroke-linejoin="round"/>
<path d="M1846.0,1003.8 L1881.0,971.2 L1916.0,1003.8 L1881.0,1036.4Z" fill="#00ff00" stroke="#00ff00" stroke-width="4" stroke-linejoin="round"/>
<path d="M1969.4,1057.0 L2004.4,1024.4 L2039.4,1057.0 L2004.4,1089.6Z" fill="#00ff00" stroke="#00ff00" stroke-width="4" stroke-linejoin="round"/>
<path d="M278.0,161.0 282.0,161.0 286.0,161.0 290.0,161.0 294.0,161.0 298.0,161.0 302.0,161.0 306.0,161.0 310.0,161.0 314.0,161.0 318.0,161.0 322.0,161.0 326.0,161.0 330.0,161.0 334.0,161.0 338.0,161.0 342.0,161.0 346.0,161.0 350.0,161.0 354.0,161.0 358.0,161.0 362.0,161.0 366.0,161.0 370.0,161.0 374.0,161.0 378.0,161.0 382.0,161.0 386.0,161.0 390.0,161.0 394.0,161.0 398.0,161.0 402.0,161.0 406.0,161.0 410.0,161.0 414.0,161.0 418.0,161.0 422.0,161.0 426.0,161.0 430.0,161.0 434.0,161.0 438.0,161.0 442.0,161.0 446.0,161.0 450.0,161.0 454.0,161.0 458.0,161.0 462.0,161.0 466.0,161.0 470.0,161.0 474.0,161.0 478.0,161.0 482.0,161.0 486.0,161.0 490.0,161.0 494.0,161.0 498.0,161.0 502.0,161.0 506.0,161.0 510.0,161.0 514.0,161.0 518.0,161.0 522.0,161.0 526.0,161.0 530.0,161.0 534.0,161.0 538.0,161.0 542.0,161.0 546.0,161.1 550.0,161.1 554.0,161.1 558.0,161.1 562.0,161.1 566.0,161.1 570.0,161.1 574.0,161.1 578.0,161.1 582.0,161.1 586.0,161.1 590.0,161.1 594.0,161.1 598.0,161.1 602.0,161.1 606.0,161.2 610.0,161.2 614.0,161.2 618.0,161.2 622.0,161.2 626.0,161.2 630.0,161.2 634.0,161.2 638.0,161.2 642.0,161.2 646.0,161.2 650.0,161.2 654.0,161.2 658.0,161.2 662.0,161.3 666.0,161.3 670.0,161.3 674.0,161.3 678.0,161.3 682.0,161.3 686.0,161.3 688.0,161.3 692.1,161.4 696.1,161.9 699.9,163.0 703.5,164.4 707.0,166.2 710.5,168.3 713.9,170.4 717.2,172.6 720.6,174.9 723.9,177.0 727.3,179.2 730.7,181.3 734.1,183.5 737.5,185.6 740.8,187.7 744.2,189.9 747.6,192.0 751.0,194.1 754.4,196.3 757.7,198.4 761.1,200.6 764.4,202.8 767.7,205.1 771.1,207.3 774.3,209.6 777.6,211.9 780.9,214.2 784.1,216.6 787.4,218.9 790.6,221.3 793.7,223.8 796.8,226.3 799.8,229.0 802.7,231.8 805.5,234.6 808.2,237.6 810.7,240.6 813.2,243.8 815.6,247.0 817.9,250.2 820.2,253.5 822.4,256.9 824.6,260.2 826.7,263.6 828.7,267.1 830.7,270.6 832.6,274.1 834.5,277.6 836.3,281.2 838.1,284.8 839.8,288.4 841.5,292.0 843.1,295.6 844.7,299.3 846.3,303.0 847.8,306.7 849.4,310.4 850.9,314.1 852.4,317.8 853.9,321.5 855.4,325.2 856.9,328.9 858.4,332.6 859.9,336.3 861.4,340.0 862.9,343.8 864.3,347.5 865.8,351.2 867.2,355.0 868.6,358.7 870.0,362.5 871.3,366.2 872.6,370.0 873.9,373.8 875.2,377.6 876.5,381.4 877.8,385.2 879.1,389.0 880.4,392.7 881.7,396.5 883.1,400.3 884.5,404.0 886.0,407.7 887.4,411.5 888.9,415.2 890.4,418.9 892.0,422.6 893.5,426.3 895.0,430.0 896.5,433.7 898.1,437.4 899.7,441.0 901.4,444.6 903.2,448.2 905.1,451.8 907.1,455.3 909.3,458.6 911.8,461.7 914.5,464.6 917.5,467.1 920.8,469.3 924.3,471.2 928.0,472.7 931.8,474.0 935.7,475.1 939.6,476.0 943.5,476.8 947.5,477.4 951.4,477.9 955.4,478.4 959.4,478.8 963.4,479.2 967.4,479.6 971.3,480.1 975.3,480.5 979.3,480.9 983.3,481.3 987.3,481.7 991.2,482.1 995.2,482.5 999.2,482.8 1003.2,483.2 1007.2,483.6 1011.2,484.0 1015.1,484.4 1019.1,484.8 1023.1,485.2 1027.1,485.6 1031.1,486.0 1035.0,486.3 1039.0,486.7 1043.0,487.1 1047.0,487.5 1051.0,487.9 1055.0,488.3 1058.9,488.7 1062.9,489.2 1066.9,489.6 1070.9,490.1 1074.8,490.6 1078.8,491.1 1082.8,491.6 1086.7,492.1 1090.7,492.6 1094.7,493.1 1098.6,493.6 1102.6,494.1 1106.6,494.6 1110.6,495.1 1114.5,495.6 1118.5,496.1 1122.5,496.6 1126.4,497.1 1130.4,497.6 1134.4,498.1 1138.3,498.6 1142.3,499.1 1146.3,499.6 1150.3,500.1 1154.2,500.6 1158.2,501.1 1162.2,501.5 1166.1,502.0 1170.1,502.5 1174.1,502.9 1178.1,503.4 1182.0,503.8 1186.0,504.3 1190.0,504.7 1194.0,505.2 1197.9,505.6 1201.9,506.1 1205.9,506.5 1209.9,506.9 1213.9,507.4 1217.8,507.8 1221.8,508.2 1225.8,508.6 1229.8,509.0 1233.8,509.4 1237.7,509.8 1241.7,510.2 1245.7,510.6 1249.7,511.1 1253.7,511.5 1257.6,511.9 1261.6,512.4 1265.6,512.8 1269.6,513.3 1273.5,513.7 1277.5,514.2 1281.5,514.6 1285.5,515.0 1289.4,515.5 1293.4,515.9 1297.4,516.4 1301.4,516.9 1305.3,517.3 1309.3,517.8 1313.3,518.3 1317.3,518.8 1321.2,519.3 1325.2,519.8 1329.2,520.3 1333.1,520.9 1337.1,521.5 1341.0,522.1 1345.0,522.7 1348.9,523.3 1352.9,524.0 1356.8,524.7 1360.7,525.5 1364.7,526.2 1368.6,527.0 1372.5,527.8 1376.4,528.7 1380.3,529.5 1384.2,530.4 1388.2,531.2 1392.1,532.1 1396.0,532.9 1399.9,533.8 1403.8,534.6 1407.7,535.4 1411.6,536.2 1415.6,536.9 1419.5,537.7 1423.4,538.4 1427.4,539.1 1431.3,539.8 1435.3,540.5 1439.2,541.2 1443.1,541.9 1447.1,542.5 1451.0,543.2 1455.0,543.8 1458.9,544.5 1462.9,545.1 1466.8,545.8 1470.8,546.4 1474.8,546.9 1478.7,547.5 1482.7,548.1 1486.6,548.6 1490.6,549.1 1494.6,549.5 1498.6,549.9 1502.6,550.3 1506.5,550.6 1510.5,550.9 1514.5,551.2 1518.5,551.4 1522.5,551.6 1526.5,551.8 1530.5,552.0 1534.5,552.2 1538.5,552.4 1542.5,552.5 1546.5,552.7 1550.5,552.8 1554.5,552.9 1558.5,553.0 1562.5,553.2 1566.5,553.3 1570.5,553.4 1574.5,553.5 1578.5,553.6 1582.5,553.7 1586.5,553.8 1590.5,553.9 1594.5,554.0 1598.5,554.1 1602.5,554.2 1606.5,554.3 1610.5,554.4 1614.5,554.5 1618.5,554.6 1622.5,554.7 1626.5,554.8 1630.5,554.9 1634.5,555.1 1638.5,555.2 1642.5,555.3 1646.5,555.5 1650.5,555.6 1654.5,555.8 1658.5,555.9 1662.5,556.1 1666.5,556.2 1670.5,556.4 1674.5,556.5 1678.5,556.7 1682.5,556.8 1686.5,556.9 1690.5,557.1 1694.5,557.2 1698.5,557.4 1702.5,557.5 1706.5,557.7 1710.5,557.8 1714.5,557.9 1718.5,558.1 1722.5,558.2 1726.5,558.4 1730.5,558.5 1734.5,558.7 1738.5,558.8 1742.5,558.9 1746.4,559.1 1750.4,559.2 1754.4,559.3 1758.4,559.5 1762.4,559.6 1766.4,559.7 1770.4,559.9 1774.4,560.0 1778.4,560.1 1782.4,560.2 1786.4,560.3 1790.4,560.5 1794.4,560.6 1798.4,560.7 1802.4,560.8 1806.4,560.9 1810.4,560.9 1814.4,561.0 1818.4,561.1 1822.4,561.2 1826.4,561.3 1830.4,561.3 1834.4,561.4 1838.4,561.5 1842.4,561.5 1846.4,561.6 1850.4,561.6 1854.4,561.7 1858.4,561.8 1862.4,561.8 1866.4,561.9 1870.4,561.9 1874.4,562.0 1878.5,562.0 1882.5,562.1 1886.5,562.1 1890.5,562.2 1894.5,562.2 1898.5,562.3 1902.5,562.3 1906.5,562.4 1910.5,562.4 1914.5,562.5 1918.5,562.6 1922.5,562.6 1926.5,562.7 1930.5,562.7 1934.5,562.8 1938.5,562.8 1942.5,562.9 1946.5,562.9 1950.5,563.0 1954.5,563.0 1958.5,563.0 1962.5,563.1 1966.5,563.1 1970.5,563.2 1974.5,563.2 1978.5,563.3 1982.5,563.3 1986.5,563.4 1990.5,563.4 1994.5,563.4 1998.5,563.5 2002.5,563.5 2006.5,563.6 2010.5,563.6 2014.5,563.6 2018.5,563.7 2022.5,563.7 2026.5,563.7 2030.5,563.8 2034.5,563.8 2038.5,563.9 2042.5,563.9 2046.5,563.9 2050.5,563.9 2054.5,564.0 2058.5,564.0 2062.5,564.0 2066.5,564.1 2070.5,564.1 2074.5,564.1 2078.5,564.2 2082.5,564.2 2086.5,564.2 2090.5,564.3 2094.5,564.3" stroke="#9000ff" stroke-width="13"/>
</g>
<g stroke="#000" stroke-width="10" stroke-linecap="round" fill="none">
<line x1="401.4" y1="1429.0" x2="401.4" y2="1401.0"/>
<line x1="648.1" y1="1429.0" x2="648.1" y2="1401.0"/>
<line x1="894.9" y1="1429.0" x2="894.9" y2="1401.0"/>
<line x1="1141.6" y1="1429.0" x2="1141.6" y2="1401.0"/>
<line x1="1388.4" y1="1429.0" x2="1388.4" y2="1401.0"/>
<line x1="1635.1" y1="1429.0" x2="1635.1" y2="1401.0"/>
<line x1="1881.9" y1="1429.0" x2="1881.9" y2="1401.0"/>
<line x1="2128.6" y1="1429.0" x2="2128.6" y2="1401.0"/>
<line x1="524.7" y1="1429.0" x2="524.7" y2="1414.5"/>
<line x1="771.5" y1="1429.0" x2="771.5" y2="1414.5"/>
<line x1="1018.2" y1="1429.0" x2="1018.2" y2="1414.5"/>
<line x1="1265.0" y1="1429.0" x2="1265.0" y2="1414.5"/>
<line x1="1511.7" y1="1429.0" x2="1511.7" y2="1414.5"/>
<line x1="1758.5" y1="1429.0" x2="1758.5" y2="1414.5"/>
<line x1="2005.2" y1="1429.0" x2="2005.2" y2="1414.5"/>
<line x1="278.0" y1="1313.7" x2="306.0" y2="1313.7"/>
<line x1="278.0" y1="1083.1" x2="306.0" y2="1083.1"/>
<line x1="278.0" y1="852.5" x2="306.0" y2="852.5"/>
<line x1="278.0" y1="622.0" x2="306.0" y2="622.0"/>
<line x1="278.0" y1="391.4" x2="306.0" y2="391.4"/>
<line x1="278.0" y1="160.8" x2="306.0" y2="160.8"/>
<line x1="278.0" y1="1198.4" x2="292.5" y2="1198.4"/>
<line x1="278.0" y1="967.8" x2="292.5" y2="967.8"/>
<line x1="278.0" y1="737.2" x2="292.5" y2="737.2"/>
<line x1="278.0" y1="506.7" x2="292.5" y2="506.7"/>
<line x1="278.0" y1="276.1" x2="292.5" y2="276.1"/>
</g>
<rect x="278.0" y="45.5" width="1850.6" height="1383.5" fill="none" stroke="#000" stroke-width="10.3" stroke-linejoin="round"/>
<text transform="translate(400.4,1547.5) scale(1.04,1.0)" font-size="120" text-anchor="middle">100</text>
<text transform="translate(647.1,1547.5) scale(1.04,1.0)" font-size="120" text-anchor="middle">200</text>
<text transform="translate(893.9,1547.5) scale(1.04,1.0)" font-size="120" text-anchor="middle">300</text>
<text transform="translate(1140.6,1547.5) scale(1.04,1.0)" font-size="120" text-anchor="middle">400</text>
<text transform="translate(1387.4,1547.5) scale(1.04,1.0)" font-size="120" text-anchor="middle">500</text>
<text transform="translate(1634.1,1547.5) scale(1.04,1.0)" font-size="120" text-anchor="middle">600</text>
<text transform="translate(1880.9,1547.5) scale(1.04,1.0)" font-size="120" text-anchor="middle">700</text>
<text transform="translate(2127.6,1547.5) scale(1.04,1.0)" font-size="120" text-anchor="middle">800</text>
<text transform="translate(248.5,1348.2) scale(1.055,1.0)" font-size="120" text-anchor="end">0</text>
<text transform="translate(248.5,1117.6) scale(1.055,1.0)" font-size="120" text-anchor="end">20</text>
<text transform="translate(248.5,887.0) scale(1.055,1.0)" font-size="120" text-anchor="end">40</text>
<text transform="translate(248.5,656.5) scale(1.055,1.0)" font-size="120" text-anchor="end">60</text>
<text transform="translate(248.5,425.9) scale(1.055,1.0)" font-size="120" text-anchor="end">80</text>
<text transform="translate(248.5,195.3) scale(1.055,1.0)" font-size="120" text-anchor="end">100</text>
<text transform="translate(899.5,1646.6) scale(1.045,1)" font-size="119.5">Temp. (<tspan dy="-32" font-size="112">o</tspan><tspan dy="32">C)</tspan></text>
<text transform="translate(102.5,1096.0) rotate(-90) scale(1.275,1)" font-size="106.5" x="0.0 92.5 130.2 156.1 202.4 252.9 282.4 302.0 332.5 423.5">Weight (%)</text>
<line x1="311.8" y1="1248.7" x2="482.2" y2="1248.7" stroke="#ff0000" stroke-width="10" stroke-linecap="round"/>
<ellipse cx="397.0" cy="1248.7" rx="29.0" ry="27.9" fill="#ff0000"/>
<text transform="translate(503.0,1273.5) scale(1.036,1.0)" font-size="80" text-anchor="start">PU-RH/ATH (exp.)</text>
<line x1="311.8" y1="1343.7" x2="482.2" y2="1343.7" stroke="#00ff00" stroke-width="10" stroke-linecap="round"/>
<path d="M362.0,1343.7 L397.0,1311.1 L432.0,1343.7 L397.0,1376.3Z" fill="#00ff00" stroke="#00ff00" stroke-width="4" stroke-linejoin="round"/>
<text transform="translate(503.0,1368.0) scale(1.036,1.0)" font-size="80" text-anchor="start">PU-RH/ATH (calc.)</text>
<text transform="translate(610.5,810.5) scale(1.045,1.0)" font-size="79" text-anchor="start">PU-RH</text>
<line x1="918.0" y1="783.0" x2="1060.0" y2="783.0" stroke="#6e6e6e" stroke-width="4"/>
<polygon points="884,783 920,773.5 920,792.5" fill="#000"/>
<text transform="translate(1876.0,389.3) scale(1.03,1.0)" font-size="80" text-anchor="start">ATH</text>
<line x1="1958.4" y1="442.0" x2="1958.4" y2="543.0" stroke="#6e6e6e" stroke-width="4"/>
<polygon points="1958.4,410 1948.5,445 1968.3,445" fill="#000"/>
</g>
<g id="bottom">
<clipPath id="clip_bottom"><rect x="278.0" y="1689.2" width="1850.6" height="1383.0"/></clipPath>
<g clip-path="url(#clip_bottom)" fill="none" stroke-linecap="round" stroke-linejoin="round">
<path d="M278.0,1809.5 282.0,1809.9 286.0,1810.4 289.9,1810.8 293.9,1811.3 297.9,1811.7 301.8,1812.1 305.8,1812.6 309.8,1813.0 313.8,1813.5 317.7,1813.9 321.7,1814.4 325.7,1814.8 329.7,1815.3 333.6,1815.7 337.6,1816.2 341.6,1816.6 345.6,1817.1 349.5,1817.5 353.5,1817.9 357.5,1818.4 361.5,1818.8 365.4,1819.2 369.4,1819.7 373.4,1820.1 377.4,1820.5 381.3,1820.9 385.3,1821.4 389.3,1821.8 393.3,1822.2 397.3,1822.6 401.2,1823.0 405.2,1823.4 409.2,1823.7 413.2,1824.1 417.2,1824.5 421.1,1824.8 425.1,1825.2 429.1,1825.5 433.1,1825.9 437.1,1826.2 441.1,1826.6 445.0,1826.9 449.0,1827.2 453.0,1827.6 457.0,1827.9 461.0,1828.2 465.0,1828.6 469.0,1828.9 472.9,1829.2 476.9,1829.5 480.9,1829.9 484.9,1830.2 488.9,1830.6 492.9,1830.9 496.8,1831.3 500.8,1831.6 504.8,1832.0 508.8,1832.4 512.8,1832.8 516.8,1833.2 520.7,1833.6 524.7,1834.0 528.7,1834.4 532.7,1834.8 536.6,1835.2 540.6,1835.6 544.6,1836.0 548.6,1836.5 552.6,1836.9 556.5,1837.3 560.5,1837.7 564.5,1838.1 568.5,1838.6 572.4,1839.0 576.4,1839.4 580.4,1839.9 584.4,1840.3 588.3,1840.8 592.3,1841.2 596.3,1841.7 600.2,1842.1 604.2,1842.6 608.2,1843.1 612.2,1843.6 616.1,1844.1 620.1,1844.6 624.1,1845.1 628.0,1845.7 632.0,1846.2 635.9,1846.8 639.9,1847.4 643.8,1848.1 647.8,1848.8 651.7,1849.6 655.6,1850.4 659.5,1851.3 663.4,1852.3 667.3,1853.2 671.1,1854.2 675.0,1855.2 678.9,1856.2 682.7,1857.2 686.6,1858.1 690.5,1859.1 694.4,1860.0 698.3,1860.9 702.2,1861.8 706.1,1862.6 710.0,1863.5 713.9,1864.3 717.8,1865.2 721.7,1866.1 725.6,1866.9 729.5,1867.8 733.4,1868.7 737.3,1869.6 741.2,1870.5 745.1,1871.4 749.0,1872.4 752.9,1873.3 756.8,1874.3 760.7,1875.2 764.6,1876.1 768.5,1877.0 772.4,1877.9 776.3,1878.8 780.2,1879.6 784.1,1880.6 788.0,1881.6 791.8,1882.7 795.6,1883.9 799.3,1885.3 803.0,1886.8 806.5,1888.6 810.0,1890.5 813.4,1892.6 816.6,1894.9 819.8,1897.3 822.9,1899.8 825.9,1902.5 828.9,1905.2 831.8,1907.9 834.7,1910.7 837.5,1913.5 840.4,1916.4 843.1,1919.2 845.9,1922.1 848.7,1925.0 851.4,1927.9 854.1,1930.9 856.9,1933.8 859.6,1936.7 862.2,1939.7 864.9,1942.7 867.5,1945.7 870.1,1948.8 872.6,1951.9 875.1,1955.0 877.5,1958.2 879.9,1961.4 882.3,1964.6 884.6,1967.9 886.9,1971.1 889.2,1974.4 891.5,1977.7 893.8,1981.0 896.0,1984.3 898.2,1987.6 900.4,1991.0 902.5,1994.4 904.6,1997.8 906.6,2001.2 908.5,2004.7 910.4,2008.3 912.2,2011.8 914.0,2015.4 915.7,2019.0 917.4,2022.6 919.1,2026.3 920.7,2029.9 922.3,2033.6 923.9,2037.2 925.5,2040.9 927.0,2044.6 928.5,2048.3 929.9,2052.1 931.3,2055.8 932.7,2059.6 934.0,2063.3 935.3,2067.1 936.5,2070.9 937.8,2074.7 939.1,2078.5 940.4,2082.3 941.7,2086.1 943.0,2089.8 944.4,2093.6 945.7,2097.4 947.1,2101.1 948.5,2104.9 949.9,2108.6 951.4,2112.3 952.8,2116.1 954.2,2119.8 955.6,2123.6 957.0,2127.3 958.4,2131.0 959.8,2134.8 961.2,2138.5 962.6,2142.3 963.9,2146.1 965.3,2149.8 966.6,2153.6 968.0,2157.4 969.3,2161.1 970.6,2164.9 971.9,2168.7 973.2,2172.5 974.5,2176.3 975.8,2180.0 977.1,2183.8 978.4,2187.6 979.7,2191.4 981.1,2195.1 982.4,2198.9 983.7,2202.7 985.0,2206.5 986.4,2210.2 987.7,2214.0 989.0,2217.8 990.4,2221.5 991.7,2225.3 993.0,2229.1 994.3,2232.9 995.7,2236.6 997.0,2240.4 998.3,2244.2 999.6,2248.0 1000.9,2251.8 1002.2,2255.6 1003.5,2259.3 1004.7,2263.1 1006.0,2266.9 1007.3,2270.7 1008.6,2274.5 1009.9,2278.3 1011.1,2282.1 1012.4,2285.9 1013.6,2289.7 1014.8,2293.5 1016.0,2297.3 1017.2,2301.1 1018.4,2304.9 1019.6,2308.8 1020.7,2312.6 1021.9,2316.4 1023.1,2320.2 1024.3,2324.0 1025.6,2327.8 1026.8,2331.6 1028.1,2335.4 1029.4,2339.2 1030.8,2343.0 1032.1,2346.7 1033.5,2350.5 1034.9,2354.2 1036.4,2357.9 1037.9,2361.6 1039.5,2365.3 1041.2,2368.9 1042.9,2372.5 1044.8,2376.1 1046.7,2379.5 1048.8,2383.0 1050.9,2386.4 1053.2,2389.7 1055.5,2392.9 1057.9,2396.1 1060.4,2399.2 1063.0,2402.3 1065.6,2405.3 1068.3,2408.2 1071.1,2411.1 1074.0,2413.9 1076.9,2416.6 1079.9,2419.2 1083.0,2421.7 1086.2,2424.2 1089.4,2426.5 1092.7,2428.8 1096.1,2431.0 1099.4,2433.1 1102.9,2435.2 1106.3,2437.2 1109.8,2439.2 1113.3,2441.2 1116.8,2443.1 1120.3,2445.1 1123.8,2447.0 1127.3,2448.9 1130.8,2450.8 1134.4,2452.6 1137.9,2454.4 1141.5,2456.2 1145.1,2457.9 1148.7,2459.6 1152.4,2461.3 1156.0,2462.9 1159.7,2464.4 1163.4,2466.0 1167.1,2467.5 1170.8,2469.0 1174.5,2470.5 1178.3,2472.0 1182.0,2473.4 1185.8,2474.8 1189.5,2476.1 1193.3,2477.3 1197.2,2478.4 1201.0,2479.5 1204.9,2480.5 1208.8,2481.4 1212.7,2482.2 1216.6,2482.9 1220.5,2483.6 1224.5,2484.3 1228.4,2484.9 1232.4,2485.5 1236.4,2486.0 1240.3,2486.6 1244.3,2487.2 1248.2,2487.8 1252.2,2488.3 1256.2,2488.9 1260.1,2489.4 1264.1,2490.0 1268.0,2490.5 1272.0,2491.1 1276.0,2491.6 1279.9,2492.1 1283.9,2492.7 1287.9,2493.2 1291.8,2493.8 1295.8,2494.4 1299.7,2495.1 1303.6,2495.7 1307.6,2496.4 1311.5,2497.2 1315.4,2498.0 1319.4,2498.8 1323.3,2499.6 1327.2,2500.5 1331.1,2501.3 1335.0,2502.2 1338.9,2503.2 1342.7,2504.1 1346.6,2505.0 1350.5,2506.0 1354.4,2506.9 1358.3,2507.9 1362.2,2508.9 1366.0,2509.8 1369.9,2510.8 1373.8,2511.8 1377.7,2512.8 1381.5,2513.8 1385.4,2514.8 1389.3,2515.8 1393.1,2516.8 1397.0,2517.9 1400.9,2518.9 1404.7,2520.0 1408.6,2521.1 1412.4,2522.1 1416.3,2523.2 1420.1,2524.3 1424.0,2525.4 1427.8,2526.6 1431.6,2527.7 1435.5,2528.8 1439.3,2530.0 1443.1,2531.1 1447.0,2532.3 1450.8,2533.4 1454.6,2534.6 1458.4,2535.8 1462.2,2537.0 1466.1,2538.2 1469.9,2539.4 1473.7,2540.7 1477.5,2541.9 1481.3,2543.2 1485.0,2544.5 1488.8,2545.8 1492.6,2547.1 1496.4,2548.4 1500.1,2549.7 1503.9,2551.1 1507.7,2552.4 1511.4,2553.8 1515.2,2555.2 1518.9,2556.6 1522.7,2558.0 1526.4,2559.5 1530.1,2561.0 1533.8,2562.5 1537.5,2564.1 1541.1,2565.7 1544.7,2567.5 1548.3,2569.2 1551.9,2571.1 1555.4,2573.0 1558.9,2574.9 1562.3,2576.9 1565.7,2579.0 1569.1,2581.2 1572.4,2583.4 1575.7,2585.6 1579.0,2587.9 1582.2,2590.3 1585.5,2592.6 1588.6,2595.1 1591.8,2597.5 1594.9,2600.0 1598.0,2602.5 1601.1,2605.1 1604.1,2607.7 1607.1,2610.4 1610.1,2613.1 1613.0,2615.8 1615.9,2618.6 1618.7,2621.4 1621.6,2624.2 1624.4,2627.0 1627.1,2629.9 1629.9,2632.8 1632.7,2635.7 1635.5,2638.5 1638.3,2641.4 1641.1,2644.2 1644.0,2647.0 1646.8,2649.8 1649.7,2652.6 1652.6,2655.3 1655.5,2658.1 1658.5,2660.8 1661.4,2663.5 1664.4,2666.2 1667.3,2668.9 1670.3,2671.6 1673.3,2674.2 1676.2,2676.9 1679.2,2679.6 1682.2,2682.3 1685.2,2684.9 1688.1,2687.6 1691.1,2690.3 1694.1,2692.9 1697.1,2695.6 1700.1,2698.2 1703.1,2700.9 1706.0,2703.6 1709.0,2706.2 1712.0,2708.9 1715.0,2711.5 1718.0,2714.2 1721.0,2716.8 1724.0,2719.5 1727.0,2722.1 1730.0,2724.8 1733.0,2727.4 1736.0,2730.1 1739.0,2732.7 1742.0,2735.3 1745.0,2738.0 1748.0,2740.6 1751.0,2743.2 1754.0,2745.9 1757.1,2748.5 1760.1,2751.1 1763.1,2753.8 1766.1,2756.4 1769.1,2759.0 1772.1,2761.7 1775.1,2764.3 1778.2,2766.9 1781.2,2769.5 1784.2,2772.1 1787.2,2774.7 1790.3,2777.3 1793.3,2779.9 1796.3,2782.5 1799.4,2785.1 1802.4,2787.7 1805.5,2790.3 1808.5,2792.9 1811.6,2795.5 1814.6,2798.1 1817.7,2800.6 1820.8,2803.2 1823.8,2805.8 1826.9,2808.3 1830.0,2810.9 1833.1,2813.4 1836.2,2816.0 1839.3,2818.4 1842.4,2820.9 1845.6,2823.4 1848.8,2825.8 1852.0,2828.2 1855.2,2830.6 1858.4,2832.9 1861.6,2835.3 1864.8,2837.7 1868.0,2840.1 1871.2,2842.6 1874.3,2845.1 1877.4,2847.6 1880.5,2850.2 1883.5,2852.8 1886.5,2855.4 1889.5,2858.1 1892.5,2860.7 1895.4,2863.4 1898.4,2866.1 1901.4,2868.7 1904.5,2871.3 1907.5,2873.9 1910.6,2876.4 1913.7,2878.9 1916.9,2881.4 1920.1,2883.8 1923.3,2886.1 1926.6,2888.4 1929.9,2890.7 1933.2,2892.9 1936.6,2895.1 1939.9,2897.3 1943.3,2899.4 1946.7,2901.5 1950.2,2903.5 1953.6,2905.5 1957.1,2907.5 1960.6,2909.4 1964.1,2911.3 1967.7,2913.2 1971.2,2915.0 1974.8,2916.8 1978.3,2918.7 1981.9,2920.4 1985.5,2922.2 1989.1,2923.9 1992.8,2925.6 1996.4,2927.2 2000.1,2928.7 2003.9,2930.1 2007.6,2931.4 2011.4,2932.7 2015.3,2933.8 2019.1,2934.8 2023.0,2935.7 2026.9,2936.6 2030.9,2937.3 2034.8,2938.0 2038.8,2938.6 2042.7,2939.1 2046.7,2939.6 2050.7,2940.0 2054.6,2940.4 2058.6,2940.7 2062.6,2940.9 2066.6,2941.2 2070.6,2941.3 2074.6,2941.5 2078.6,2941.6 2082.6,2941.7 2086.6,2941.8 2090.6,2941.9 2094.6,2942.0" stroke="#000" stroke-width="13"/>
<path d="M278.0,1804.8 282.0,1804.9 286.0,1805.1 290.0,1805.2 294.0,1805.4 298.0,1805.5 302.0,1805.6 306.0,1805.8 310.0,1805.9 314.0,1806.1 318.0,1806.2 322.0,1806.4 326.0,1806.5 329.9,1806.6 333.9,1806.8 337.9,1806.9 341.9,1807.1 345.9,1807.2 349.9,1807.4 353.9,1807.5 357.9,1807.6 361.9,1807.8 365.9,1807.9 369.9,1808.0 373.9,1808.2 377.9,1808.3 381.9,1808.4 385.9,1808.5 389.9,1808.7 393.9,1808.8 397.9,1808.9 401.9,1809.0 405.9,1809.1 409.9,1809.2 413.9,1809.3 417.9,1809.4 421.9,1809.5 425.9,1809.5 429.9,1809.6 433.9,1809.7 437.9,1809.7 441.9,1809.8 445.9,1809.9 449.8,1809.9 453.8,1810.0 457.8,1810.0 461.8,1810.1 465.8,1810.1 469.8,1810.2 473.8,1810.3 477.8,1810.3 481.8,1810.4 485.8,1810.5 489.8,1810.6 493.8,1810.7 497.8,1810.8 501.8,1810.9 505.8,1811.0 509.8,1811.1 513.8,1811.3 517.8,1811.4 521.8,1811.6 525.8,1811.7 529.8,1811.9 533.8,1812.1 537.8,1812.3 541.8,1812.5 545.8,1812.7 549.8,1813.0 553.7,1813.2 557.7,1813.4 561.7,1813.7 565.7,1813.9 569.7,1814.2 573.7,1814.4 577.7,1814.7 581.7,1814.9 585.7,1815.2 589.7,1815.5 593.6,1815.7 597.6,1816.0 601.6,1816.3 605.6,1816.6 609.6,1816.9 613.6,1817.2 617.6,1817.5 621.6,1817.8 625.5,1818.1 629.5,1818.4 633.5,1818.7 637.5,1819.0 641.5,1819.4 645.5,1819.7 649.5,1820.0 653.4,1820.4 657.4,1820.7 661.4,1821.1 665.4,1821.5 669.4,1821.9 673.3,1822.3 677.3,1822.8 681.3,1823.3 685.2,1823.8 689.2,1824.3 693.2,1824.9 697.1,1825.5 701.1,1826.1 705.0,1826.8 709.0,1827.4 712.9,1828.1 716.8,1828.8 720.8,1829.4 724.7,1830.1 728.7,1830.8 732.6,1831.5 736.5,1832.1 740.5,1832.8 744.4,1833.5 748.4,1834.2 752.3,1834.9 756.2,1835.7 760.1,1836.5 764.1,1837.3 768.0,1838.1 771.9,1839.0 775.7,1839.9 779.6,1840.9 783.5,1841.9 787.4,1843.0 791.2,1844.1 795.0,1845.2 798.8,1846.5 802.6,1847.8 806.4,1849.2 810.1,1850.6 813.7,1852.2 817.3,1853.9 820.9,1855.7 824.4,1857.7 827.8,1859.7 831.2,1861.8 834.5,1864.1 837.7,1866.4 840.9,1868.9 844.0,1871.4 847.1,1874.0 850.1,1876.6 853.1,1879.3 856.0,1882.0 858.9,1884.7 861.8,1887.5 864.6,1890.3 867.5,1893.2 870.3,1896.0 873.1,1898.9 875.8,1901.8 878.5,1904.7 881.2,1907.7 883.7,1910.8 886.3,1913.9 888.7,1917.0 891.1,1920.2 893.5,1923.4 895.7,1926.7 897.9,1930.1 900.1,1933.4 902.2,1936.8 904.2,1940.3 906.3,1943.7 908.2,1947.2 910.2,1950.7 912.1,1954.2 914.1,1957.7 916.0,1961.2 917.8,1964.7 919.7,1968.3 921.6,1971.8 923.4,1975.4 925.2,1979.0 926.9,1982.5 928.7,1986.1 930.4,1989.8 932.0,1993.4 933.6,1997.1 935.2,2000.8 936.7,2004.5 938.1,2008.2 939.4,2012.0 940.7,2015.8 941.9,2019.6 943.1,2023.4 944.3,2027.2 945.4,2031.0 946.6,2034.8 947.8,2038.7 949.0,2042.5 950.2,2046.3 951.5,2050.1 952.8,2053.8 954.2,2057.6 955.6,2061.3 957.0,2065.1 958.4,2068.8 959.9,2072.5 961.3,2076.3 962.7,2080.0 964.2,2083.7 965.6,2087.5 967.1,2091.2 968.5,2094.9 970.0,2098.6 971.4,2102.4 972.9,2106.1 974.4,2109.8 975.8,2113.5 977.3,2117.2 978.8,2120.9 980.3,2124.7 981.8,2128.4 983.4,2132.0 984.9,2135.7 986.5,2139.4 988.1,2143.1 989.7,2146.7 991.4,2150.4 993.0,2154.0 994.7,2157.6 996.4,2161.3 998.1,2164.9 999.8,2168.5 1001.4,2172.2 1003.0,2175.8 1004.7,2179.5 1006.3,2183.1 1007.8,2186.8 1009.4,2190.5 1011.0,2194.1 1012.6,2197.8 1014.3,2201.4 1016.0,2205.1 1017.7,2208.7 1019.5,2212.2 1021.3,2215.8 1023.2,2219.3 1025.2,2222.8 1027.2,2226.3 1029.2,2229.7 1031.3,2233.1 1033.4,2236.5 1035.5,2239.9 1037.8,2243.2 1040.0,2246.5 1042.4,2249.8 1044.8,2252.9 1047.2,2256.1 1049.8,2259.2 1052.3,2262.2 1055.0,2265.2 1057.7,2268.2 1060.4,2271.1 1063.2,2274.0 1065.9,2276.9 1068.7,2279.7 1071.6,2282.6 1074.4,2285.4 1077.3,2288.2 1080.2,2290.9 1083.2,2293.5 1086.2,2296.1 1089.3,2298.7 1092.5,2301.1 1095.7,2303.5 1099.0,2305.7 1102.4,2307.9 1105.8,2310.0 1109.2,2312.0 1112.7,2313.9 1116.3,2315.7 1119.9,2317.5 1123.5,2319.1 1127.2,2320.7 1130.9,2322.2 1134.7,2323.6 1138.4,2324.9 1142.2,2326.2 1146.1,2327.3 1149.9,2328.5 1153.7,2329.5 1157.6,2330.5 1161.5,2331.5 1165.4,2332.5 1169.3,2333.4 1173.2,2334.3 1177.1,2335.2 1181.0,2336.1 1184.9,2337.0 1188.7,2337.9 1192.6,2338.8 1196.5,2339.8 1200.4,2340.8 1204.3,2341.7 1208.1,2342.7 1212.0,2343.7 1215.9,2344.8 1219.7,2345.8 1223.6,2346.8 1227.5,2347.9 1231.3,2348.9 1235.2,2350.0 1239.0,2351.0 1242.9,2352.0 1246.8,2353.1 1250.6,2354.1 1254.5,2355.1 1258.4,2356.1 1262.2,2357.1 1266.1,2358.1 1270.0,2359.1 1273.9,2360.1 1277.7,2361.1 1281.6,2362.1 1285.5,2363.0 1289.4,2364.0 1293.3,2365.0 1297.1,2365.9 1301.0,2366.9 1304.9,2367.8 1308.8,2368.7 1312.7,2369.6 1316.6,2370.5 1320.5,2371.3 1324.4,2372.1 1328.3,2372.9 1332.3,2373.7 1336.2,2374.4 1340.1,2375.1 1344.1,2375.9 1348.0,2376.6 1351.9,2377.3 1355.9,2378.0 1359.8,2378.8 1363.7,2379.6 1367.6,2380.4 1371.5,2381.3 1375.4,2382.2 1379.3,2383.2 1383.1,2384.3 1386.9,2385.5 1390.7,2386.8 1394.5,2388.1 1398.2,2389.5 1401.9,2391.0 1405.6,2392.6 1409.2,2394.2 1412.9,2395.9 1416.5,2397.6 1420.1,2399.4 1423.7,2401.1 1427.3,2402.9 1430.9,2404.6 1434.5,2406.3 1438.2,2407.9 1441.8,2409.5 1445.5,2411.1 1449.2,2412.6 1452.9,2414.1 1456.6,2415.5 1460.4,2416.9 1464.1,2418.3 1467.9,2419.7 1471.7,2421.0 1475.4,2422.3 1479.2,2423.6 1483.0,2424.9 1486.8,2426.2 1490.6,2427.6 1494.3,2428.9 1498.1,2430.2 1501.9,2431.5 1505.7,2432.8 1509.4,2434.2 1513.2,2435.5 1517.0,2436.8 1520.7,2438.2 1524.5,2439.5 1528.3,2440.8 1532.0,2442.2 1535.8,2443.5 1539.6,2444.8 1543.3,2446.2 1547.1,2447.6 1550.9,2448.9 1554.6,2450.4 1558.3,2451.8 1562.0,2453.2 1565.8,2454.7 1569.5,2456.2 1573.2,2457.8 1576.9,2459.3 1580.5,2460.8 1584.2,2462.4 1587.9,2464.0 1591.5,2465.6 1595.2,2467.2 1598.8,2468.9 1602.5,2470.5 1606.1,2472.2 1609.7,2473.9 1613.3,2475.7 1616.9,2477.5 1620.5,2479.3 1624.0,2481.1 1627.5,2483.0 1631.0,2485.0 1634.5,2486.9 1637.9,2489.0 1641.4,2491.0 1644.8,2493.1 1648.1,2495.3 1651.5,2497.5 1654.8,2499.7 1658.1,2501.9 1661.4,2504.2 1664.7,2506.5 1667.9,2508.8 1671.2,2511.1 1674.4,2513.5 1677.7,2515.9 1680.9,2518.2 1684.1,2520.6 1687.3,2523.0 1690.5,2525.4 1693.7,2527.8 1696.9,2530.2 1700.1,2532.6 1703.3,2535.0 1706.4,2537.4 1709.6,2539.9 1712.8,2542.3 1715.9,2544.8 1719.0,2547.3 1722.2,2549.8 1725.3,2552.3 1728.4,2554.8 1731.5,2557.3 1734.6,2559.9 1737.7,2562.4 1740.8,2564.9 1743.9,2567.5 1747.0,2570.0 1750.1,2572.5 1753.2,2575.0 1756.3,2577.5 1759.4,2580.0 1762.5,2582.6 1765.6,2585.1 1768.7,2587.6 1771.9,2590.1 1775.0,2592.6 1778.1,2595.1 1781.2,2597.6 1784.3,2600.1 1787.4,2602.7 1790.5,2605.2 1793.6,2607.7 1796.7,2610.2 1799.8,2612.7 1802.9,2615.2 1806.1,2617.7 1809.2,2620.2 1812.3,2622.8 1815.4,2625.3 1818.5,2627.8 1821.6,2630.3 1824.7,2632.8 1827.8,2635.4 1830.9,2637.9 1834.0,2640.4 1837.1,2643.0 1840.2,2645.5 1843.3,2648.0 1846.3,2650.6 1849.4,2653.1 1852.5,2655.7 1855.6,2658.2 1858.7,2660.7 1861.8,2663.2 1865.0,2665.7 1868.1,2668.2 1871.3,2670.6 1874.4,2673.1 1877.6,2675.5 1880.8,2677.8 1884.1,2680.2 1887.3,2682.5 1890.6,2684.8 1893.9,2687.1 1897.2,2689.4 1900.5,2691.6 1903.8,2693.8 1907.2,2696.0 1910.5,2698.2 1913.8,2700.4 1917.2,2702.6 1920.5,2704.8 1923.8,2707.0 1927.2,2709.3 1930.5,2711.5 1933.7,2713.8 1937.0,2716.1 1940.3,2718.4 1943.5,2720.8 1946.7,2723.1 1949.9,2725.5 1953.2,2727.9 1956.4,2730.3 1959.5,2732.7 1962.7,2735.1 1965.9,2737.5 1969.1,2739.9 1972.3,2742.3 1975.5,2744.7 1978.7,2747.1 1981.9,2749.5 1985.1,2751.9 1988.4,2754.2 1991.6,2756.6 1994.9,2758.8 1998.2,2761.1 2001.5,2763.4 2004.9,2765.6 2008.2,2767.7 2011.6,2769.8 2015.0,2771.9 2018.4,2774.0 2021.9,2776.0 2025.3,2778.0 2028.8,2780.0 2032.3,2782.0 2035.8,2784.0 2039.3,2785.9 2042.7,2787.9 2046.2,2789.8 2049.7,2791.8 2053.2,2793.8 2056.7,2795.8 2060.1,2797.8 2063.6,2799.8 2067.0,2801.8 2070.5,2803.8 2073.9,2805.8 2077.4,2807.9 2080.8,2809.9 2084.3,2811.9 2087.7,2813.9 2091.2,2816.0 2094.6,2818.0" stroke="#0000ff" stroke-width="10.6"/>
<ellipse cx="278.0" cy="1804.8" rx="29.0" ry="27.9" fill="#0000ff" stroke="none"/>
<ellipse cx="401.5" cy="1809.0" rx="29.0" ry="27.9" fill="#0000ff" stroke="none"/>
<ellipse cx="525.0" cy="1811.7" rx="29.0" ry="27.9" fill="#0000ff" stroke="none"/>
<ellipse cx="649.0" cy="1820.0" rx="29.0" ry="27.9" fill="#0000ff" stroke="none"/>
<ellipse cx="772.2" cy="1839.1" rx="29.0" ry="27.9" fill="#0000ff" stroke="none"/>
<ellipse cx="895.2" cy="1925.8" rx="29.0" ry="27.9" fill="#0000ff" stroke="none"/>
<ellipse cx="1019.4" cy="2212.2" rx="29.0" ry="27.9" fill="#0000ff" stroke="none"/>
<ellipse cx="1141.0" cy="2325.8" rx="29.0" ry="27.9" fill="#0000ff" stroke="none"/>
<ellipse cx="1264.8" cy="2357.8" rx="29.0" ry="27.9" fill="#0000ff" stroke="none"/>
<ellipse cx="1388.2" cy="2385.8" rx="29.0" ry="27.9" fill="#0000ff" stroke="none"/>
<ellipse cx="1511.2" cy="2434.8" rx="29.0" ry="27.9" fill="#0000ff" stroke="none"/>
<ellipse cx="1634.3" cy="2486.8" rx="29.0" ry="27.9" fill="#0000ff" stroke="none"/>
<ellipse cx="1757.6" cy="2578.6" rx="29.0" ry="27.9" fill="#0000ff" stroke="none"/>
<ellipse cx="1881.0" cy="2678.0" rx="29.0" ry="27.9" fill="#0000ff" stroke="none"/>
<ellipse cx="2004.4" cy="2765.3" rx="29.0" ry="27.9" fill="#0000ff" stroke="none"/>
<path d="M278.0,1808.3 282.0,1808.8 285.9,1809.3 289.9,1809.7 293.9,1810.2 297.9,1810.7 301.8,1811.2 305.8,1811.7 309.8,1812.2 313.7,1812.7 317.7,1813.2 321.7,1813.7 325.7,1814.2 329.6,1814.7 333.6,1815.2 337.6,1815.7 341.5,1816.2 345.5,1816.7 349.5,1817.2 353.4,1817.6 357.4,1818.1 361.4,1818.6 365.4,1819.1 369.3,1819.5 373.3,1820.0 377.3,1820.4 381.3,1820.9 385.2,1821.3 389.2,1821.7 393.2,1822.2 397.2,1822.6 401.2,1823.0 405.1,1823.3 409.1,1823.7 413.1,1824.1 417.1,1824.4 421.1,1824.8 425.1,1825.1 429.1,1825.4 433.1,1825.7 437.0,1826.0 441.0,1826.3 445.0,1826.6 449.0,1826.9 453.0,1827.2 457.0,1827.4 461.0,1827.7 465.0,1828.0 469.0,1828.3 473.0,1828.5 477.0,1828.8 481.0,1829.1 484.9,1829.4 488.9,1829.7 492.9,1830.0 496.9,1830.3 500.9,1830.6 504.9,1830.9 508.9,1831.3 512.9,1831.6 516.8,1831.9 520.8,1832.3 524.8,1832.7 528.8,1833.1 532.8,1833.5 536.8,1833.9 540.7,1834.3 544.7,1834.7 548.7,1835.2 552.7,1835.6 556.6,1836.1 560.6,1836.5 564.6,1837.0 568.6,1837.4 572.5,1837.9 576.5,1838.4 580.5,1838.8 584.5,1839.3 588.4,1839.8 592.4,1840.3 596.4,1840.8 600.4,1841.2 604.3,1841.7 608.3,1842.2 612.3,1842.7 616.2,1843.2 620.2,1843.7 624.2,1844.1 628.2,1844.6 632.1,1845.1 636.1,1845.5 640.1,1846.0 644.1,1846.4 648.0,1846.9 652.0,1847.3 656.0,1847.7 660.0,1848.1 664.0,1848.5 667.9,1848.8 671.9,1849.2 675.9,1849.5 679.9,1849.9 683.9,1850.3 687.9,1850.8 691.8,1851.2 695.8,1851.7 699.8,1852.3 703.7,1852.9 707.7,1853.6 711.6,1854.3 715.5,1855.1 719.4,1855.9 723.3,1856.8 727.2,1857.7 731.1,1858.6 735.0,1859.6 738.9,1860.6 742.8,1861.5 746.6,1862.6 750.5,1863.6 754.4,1864.7 758.2,1865.8 762.0,1866.9 765.9,1868.1 769.7,1869.4 773.5,1870.6 777.2,1872.0 781.0,1873.3 784.7,1874.7 788.5,1876.2 792.2,1877.7 795.9,1879.3 799.5,1880.9 803.1,1882.6 806.7,1884.3 810.3,1886.2 813.8,1888.1 817.2,1890.1 820.6,1892.3 824.0,1894.4 827.3,1896.7 830.5,1899.1 833.7,1901.5 836.8,1903.9 840.0,1906.5 843.0,1909.0 846.1,1911.6 849.1,1914.2 852.1,1916.9 855.0,1919.6 857.9,1922.4 860.8,1925.2 863.6,1928.0 866.4,1930.9 869.1,1933.8 871.8,1936.8 874.4,1939.8 876.9,1942.9 879.4,1946.1 881.7,1949.3 884.1,1952.5 886.4,1955.8 888.6,1959.1 890.8,1962.5 893.0,1965.8 895.3,1969.1 897.5,1972.5 899.7,1975.8 901.9,1979.1 904.2,1982.5 906.4,1985.8 908.5,1989.2 910.6,1992.6 912.7,1996.0 914.6,1999.5 916.5,2003.0 918.3,2006.6 920.1,2010.2 921.8,2013.8 923.4,2017.4 925.1,2021.1 926.7,2024.7 928.3,2028.4 929.9,2032.1 931.5,2035.7 933.1,2039.4 934.6,2043.1 936.2,2046.8 937.6,2050.5 939.0,2054.2 940.4,2058.0 941.7,2061.8 943.0,2065.6 944.3,2069.4 945.6,2073.1 946.9,2076.9 948.2,2080.7 949.5,2084.5 950.9,2088.3 952.2,2092.0 953.6,2095.8 954.9,2099.5 956.3,2103.3 957.7,2107.0 959.2,2110.8 960.6,2114.5 962.0,2118.3 963.4,2122.0 964.8,2125.8 966.3,2129.5 967.7,2133.2 969.1,2137.0 970.5,2140.7 971.9,2144.5 973.3,2148.2 974.7,2152.0 976.1,2155.7 977.6,2159.4 979.0,2163.2 980.4,2166.9 981.8,2170.7 983.2,2174.4 984.5,2178.2 985.9,2181.9 987.3,2185.7 988.7,2189.5 990.1,2193.2 991.4,2197.0 992.8,2200.7 994.2,2204.5 995.5,2208.3 996.9,2212.0 998.2,2215.8 999.6,2219.6 1000.9,2223.3 1002.2,2227.1 1003.5,2230.9 1004.8,2234.7 1006.0,2238.5 1007.2,2242.3 1008.4,2246.1 1009.5,2250.0 1010.7,2253.8 1011.8,2257.7 1013.0,2261.5 1014.2,2265.3 1015.4,2269.1 1016.8,2272.9 1018.2,2276.6 1019.8,2280.2 1021.5,2283.9 1023.3,2287.4 1025.2,2291.0 1027.1,2294.4 1029.1,2297.9 1031.1,2301.4 1033.1,2304.9 1035.0,2308.4 1036.9,2311.9 1038.8,2315.4 1040.6,2319.0 1042.4,2322.5 1044.3,2326.1 1046.1,2329.7 1047.9,2333.2 1049.8,2336.7 1051.8,2340.2 1053.8,2343.7 1055.9,2347.1 1058.0,2350.5 1060.1,2353.9 1062.3,2357.2 1064.5,2360.6 1066.8,2363.9 1069.0,2367.2 1071.3,2370.4 1073.7,2373.7 1076.0,2376.9 1078.4,2380.1 1080.8,2383.3 1083.2,2386.5 1085.6,2389.7 1088.1,2392.9 1090.5,2396.1 1093.0,2399.2 1095.5,2402.4 1098.0,2405.5 1100.5,2408.6 1103.1,2411.6 1105.7,2414.7 1108.3,2417.7 1110.9,2420.7 1113.6,2423.7 1116.4,2426.6 1119.2,2429.5 1122.0,2432.3 1124.9,2435.0 1127.9,2437.7 1130.9,2440.3 1134.1,2442.8 1137.3,2445.1 1140.6,2447.4 1144.0,2449.5 1147.4,2451.5 1151.0,2453.4 1154.5,2455.1 1158.2,2456.8 1161.9,2458.3 1165.6,2459.9 1169.3,2461.3 1173.0,2462.8 1176.8,2464.2 1180.5,2465.6 1184.3,2466.9 1188.1,2468.3 1191.9,2469.6 1195.6,2470.9 1199.4,2472.2 1203.2,2473.5 1207.0,2474.7 1210.8,2475.9 1214.7,2477.1 1218.5,2478.2 1222.3,2479.3 1226.2,2480.5 1230.0,2481.6 1233.9,2482.7 1237.7,2483.8 1241.6,2484.9 1245.4,2486.0 1249.2,2487.1 1253.1,2488.2 1256.9,2489.4 1260.8,2490.5 1264.6,2491.6 1268.5,2492.7 1272.3,2493.7 1276.2,2494.8 1280.0,2495.9 1283.9,2496.9 1287.8,2498.0 1291.6,2499.0 1295.5,2500.0 1299.4,2501.0 1303.3,2501.9 1307.2,2502.8 1311.1,2503.7 1315.0,2504.5 1318.9,2505.3 1322.8,2506.1 1326.8,2506.8 1330.7,2507.5 1334.6,2508.2 1338.6,2508.9 1342.5,2509.6 1346.5,2510.3 1350.4,2511.1 1354.3,2511.8 1358.2,2512.6 1362.2,2513.5 1366.1,2514.4 1369.9,2515.3 1373.8,2516.3 1377.7,2517.3 1381.6,2518.3 1385.4,2519.3 1389.3,2520.4 1393.1,2521.5 1397.0,2522.6 1400.8,2523.7 1404.7,2524.8 1408.5,2525.9 1412.4,2527.0 1416.2,2528.0 1420.1,2529.1 1424.0,2530.1 1427.9,2531.0 1431.7,2532.0 1435.6,2532.9 1439.5,2533.8 1443.4,2534.7 1447.3,2535.5 1451.3,2536.4 1455.2,2537.3 1459.1,2538.2 1463.0,2539.1 1466.8,2540.1 1470.7,2541.1 1474.6,2542.2 1478.4,2543.3 1482.2,2544.5 1486.0,2545.8 1489.8,2547.1 1493.5,2548.6 1497.2,2550.1 1500.9,2551.6 1504.5,2553.3 1508.1,2555.0 1511.7,2556.7 1515.3,2558.5 1518.9,2560.3 1522.5,2562.2 1526.0,2564.0 1529.5,2565.9 1533.1,2567.8 1536.6,2569.6 1540.2,2571.5 1543.7,2573.3 1547.3,2575.2 1550.8,2577.0 1554.4,2578.8 1557.9,2580.6 1561.5,2582.4 1565.1,2584.3 1568.7,2586.1 1572.2,2587.9 1575.8,2589.7 1579.3,2591.6 1582.8,2593.5 1586.4,2595.4 1589.9,2597.3 1593.3,2599.3 1596.8,2601.3 1600.2,2603.4 1603.6,2605.6 1606.9,2607.8 1610.2,2610.1 1613.4,2612.5 1616.5,2614.9 1619.6,2617.5 1622.7,2620.1 1625.7,2622.7 1628.6,2625.4 1631.6,2628.1 1634.5,2630.8 1637.4,2633.6 1640.4,2636.3 1643.3,2639.0 1646.3,2641.7 1649.3,2644.3 1652.3,2646.9 1655.3,2649.5 1658.4,2652.1 1661.4,2654.7 1664.5,2657.3 1667.6,2659.9 1670.6,2662.5 1673.7,2665.1 1676.7,2667.6 1679.8,2670.2 1682.8,2672.8 1685.8,2675.4 1688.9,2678.0 1691.9,2680.7 1694.9,2683.3 1698.0,2685.9 1701.0,2688.5 1704.0,2691.1 1707.1,2693.7 1710.1,2696.3 1713.1,2699.0 1716.1,2701.6 1719.2,2704.2 1722.2,2706.8 1725.2,2709.4 1728.2,2712.0 1731.3,2714.7 1734.3,2717.3 1737.3,2719.9 1740.4,2722.5 1743.4,2725.1 1746.4,2727.7 1749.5,2730.3 1752.5,2732.9 1755.6,2735.5 1758.6,2738.1 1761.7,2740.7 1764.7,2743.3 1767.7,2745.9 1770.8,2748.5 1773.8,2751.1 1776.9,2753.7 1779.9,2756.3 1783.0,2758.9 1786.0,2761.5 1789.1,2764.1 1792.1,2766.6 1795.2,2769.2 1798.2,2771.8 1801.3,2774.4 1804.4,2776.9 1807.5,2779.5 1810.6,2782.0 1813.7,2784.5 1816.8,2787.0 1819.9,2789.6 1823.0,2792.1 1826.1,2794.5 1829.3,2797.0 1832.4,2799.5 1835.6,2802.0 1838.7,2804.4 1841.9,2806.9 1845.0,2809.4 1848.2,2811.8 1851.4,2814.2 1854.6,2816.7 1857.7,2819.1 1860.9,2821.5 1864.1,2823.9 1867.3,2826.3 1870.6,2828.7 1873.8,2831.1 1877.0,2833.4 1880.3,2835.8 1883.5,2838.1 1886.8,2840.4 1890.1,2842.7 1893.3,2845.0 1896.6,2847.2 1900.0,2849.5 1903.3,2851.7 1906.6,2853.9 1910.0,2856.1 1913.3,2858.3 1916.7,2860.4 1920.1,2862.6 1923.5,2864.7 1926.8,2866.8 1930.2,2869.0 1933.6,2871.1 1937.1,2873.2 1940.5,2875.2 1943.9,2877.3 1947.3,2879.4 1950.7,2881.5 1954.2,2883.5 1957.6,2885.6 1961.0,2887.6 1964.5,2889.7 1968.0,2891.7 1971.5,2893.6 1975.0,2895.5 1978.6,2897.3 1982.2,2899.0 1985.8,2900.6 1989.5,2902.1 1993.3,2903.5 1997.0,2904.8 2000.9,2906.0 2004.7,2907.1 2008.5,2908.2 2012.4,2909.3 2016.3,2910.3 2020.1,2911.4 2024.0,2912.4 2027.9,2913.5 2031.7,2914.6 2035.5,2915.7 2039.4,2916.9 2041.3,2917.4" stroke="#00ff00" stroke-width="10.6"/>
<path d="M243.0,1808.3 L278.0,1775.7 L313.0,1808.3 L278.0,1840.9Z" fill="#00ff00" stroke="#00ff00" stroke-width="4" stroke-linejoin="round"/>
<path d="M366.5,1823.0 L401.5,1790.4 L436.5,1823.0 L401.5,1855.6Z" fill="#00ff00" stroke="#00ff00" stroke-width="4" stroke-linejoin="round"/>
<path d="M490.0,1832.7 L525.0,1800.1 L560.0,1832.7 L525.0,1865.3Z" fill="#00ff00" stroke="#00ff00" stroke-width="4" stroke-linejoin="round"/>
<path d="M614.0,1847.0 L649.0,1814.4 L684.0,1847.0 L649.0,1879.6Z" fill="#00ff00" stroke="#00ff00" stroke-width="4" stroke-linejoin="round"/>
<path d="M737.2,1870.2 L772.2,1837.6 L807.2,1870.2 L772.2,1902.8Z" fill="#00ff00" stroke="#00ff00" stroke-width="4" stroke-linejoin="round"/>
<path d="M861.0,1970.5 L896.0,1937.9 L931.0,1970.5 L896.0,2003.1Z" fill="#00ff00" stroke="#00ff00" stroke-width="4" stroke-linejoin="round"/>
<path d="M984.4,2279.8 L1019.4,2247.2 L1054.4,2279.8 L1019.4,2312.4Z" fill="#00ff00" stroke="#00ff00" stroke-width="4" stroke-linejoin="round"/>
<path d="M1106.1,2447.9 L1141.1,2415.3 L1176.1,2447.9 L1141.1,2480.5Z" fill="#00ff00" stroke="#00ff00" stroke-width="4" stroke-linejoin="round"/>
<path d="M1206.3,2484.8 L1241.3,2452.2 L1276.3,2484.8 L1241.3,2517.4Z" fill="#00ff00" stroke="#00ff00" stroke-width="4" stroke-linejoin="round"/>
<path d="M1329.7,2514.0 L1364.7,2481.4 L1399.7,2514.0 L1364.7,2546.6Z" fill="#00ff00" stroke="#00ff00" stroke-width="4" stroke-linejoin="round"/>
<path d="M1453.2,2546.5 L1488.2,2513.9 L1523.2,2546.5 L1488.2,2579.1Z" fill="#00ff00" stroke="#00ff00" stroke-width="4" stroke-linejoin="round"/>
<path d="M1574.2,2609.3 L1609.2,2576.7 L1644.2,2609.3 L1609.2,2641.9Z" fill="#00ff00" stroke="#00ff00" stroke-width="4" stroke-linejoin="round"/>
<path d="M1651.5,2676.0 L1686.5,2643.4 L1721.5,2676.0 L1686.5,2708.6Z" fill="#00ff00" stroke="#00ff00" stroke-width="4" stroke-linejoin="round"/>
<path d="M1789.7,2793.4 L1824.7,2760.8 L1859.7,2793.4 L1824.7,2826.0Z" fill="#00ff00" stroke="#00ff00" stroke-width="4" stroke-linejoin="round"/>
<path d="M1863.5,2848.5 L1898.5,2815.9 L1933.5,2848.5 L1898.5,2881.1Z" fill="#00ff00" stroke="#00ff00" stroke-width="4" stroke-linejoin="round"/>
<path d="M1941.5,2896.3 L1976.5,2863.7 L2011.5,2896.3 L1976.5,2928.9Z" fill="#00ff00" stroke="#00ff00" stroke-width="4" stroke-linejoin="round"/>
<path d="M1953.0,2901.7 L1988.0,2869.1 L2023.0,2901.7 L1988.0,2934.3Z" fill="#00ff00" stroke="#00ff00" stroke-width="4" stroke-linejoin="round"/>
<path d="M278.0,1800.3 282.0,1800.3 286.0,1800.3 290.0,1800.3 294.0,1800.3 298.0,1800.3 302.0,1800.3 306.0,1800.3 310.0,1800.3 314.0,1800.3 318.0,1800.3 322.0,1800.3 326.0,1800.3 330.0,1800.3 334.0,1800.3 338.0,1800.3 342.0,1800.4 346.0,1800.4 350.0,1800.4 354.0,1800.4 358.0,1800.4 362.0,1800.4 366.0,1800.4 370.0,1800.4 374.0,1800.4 378.0,1800.4 382.0,1800.4 385.9,1800.4 389.9,1800.4 393.9,1800.4 397.9,1800.4 401.9,1800.4 405.9,1800.4 409.9,1800.4 413.9,1800.4 417.9,1800.4 421.9,1800.4 425.9,1800.4 429.9,1800.4 433.9,1800.4 437.9,1800.4 441.9,1800.4 445.9,1800.4 449.9,1800.4 453.9,1800.4 457.9,1800.4 461.9,1800.5 465.9,1800.5 469.9,1800.5 473.9,1800.5 477.9,1800.5 481.9,1800.5 485.9,1800.5 489.9,1800.5 493.9,1800.5 497.9,1800.5 501.9,1800.5 505.9,1800.5 509.9,1800.5 513.9,1800.5 517.9,1800.5 521.9,1800.5 525.9,1800.5 529.9,1800.5 533.9,1800.5 537.9,1800.5 541.9,1800.5 545.9,1800.5 549.9,1800.5 553.9,1800.5 557.9,1800.5 561.9,1800.5 565.9,1800.5 569.9,1800.5 573.9,1800.5 577.9,1800.5 581.9,1800.5 585.9,1800.5 589.9,1800.5 593.9,1800.5 597.8,1800.5 601.8,1800.5 605.8,1800.5 609.8,1800.5 613.8,1800.5 617.8,1800.5 621.8,1800.5 625.8,1800.6 629.8,1800.6 633.8,1800.6 637.8,1800.6 641.8,1800.6 645.8,1800.7 649.8,1800.7 653.8,1800.7 657.8,1800.8 661.8,1800.8 665.8,1800.9 669.8,1800.9 673.8,1801.0 677.8,1801.0 681.8,1801.1 685.8,1801.1 689.8,1801.2 693.8,1801.3 697.8,1801.3 701.8,1801.4 705.8,1801.5 709.8,1801.5 713.8,1801.6 717.8,1801.7 721.8,1801.8 725.8,1801.9 729.8,1802.0 733.8,1802.1 737.8,1802.2 741.8,1802.3 745.8,1802.4 749.8,1802.5 753.8,1802.6 757.8,1802.8 761.7,1802.9 765.7,1803.0 769.7,1803.2 773.7,1803.3 777.7,1803.4 781.7,1803.6 785.7,1803.7 789.7,1803.9 793.7,1804.1 797.7,1804.2 801.7,1804.4 805.7,1804.6 809.7,1804.8 813.7,1805.0 817.7,1805.2 821.7,1805.4 825.7,1805.6 829.7,1805.8 833.6,1806.1 837.6,1806.3 841.6,1806.6 845.6,1806.9 849.6,1807.2 853.6,1807.5 857.6,1807.8 861.5,1808.2 865.5,1808.5 869.5,1808.9 873.5,1809.3 877.5,1809.7 881.4,1810.1 885.4,1810.5 889.4,1811.0 893.4,1811.4 897.3,1811.9 901.3,1812.4 905.3,1812.9 909.2,1813.4 913.2,1813.9 917.2,1814.4 921.1,1815.0 925.1,1815.6 929.0,1816.2 933.0,1816.8 936.9,1817.5 940.8,1818.2 944.8,1819.0 948.7,1819.8 952.6,1820.6 956.5,1821.4 960.4,1822.3 964.3,1823.3 968.2,1824.3 972.0,1825.3 975.8,1826.6 979.6,1828.0 983.3,1829.5 986.9,1831.2 990.4,1833.0 993.9,1834.9 997.4,1836.9 1000.8,1839.0 1004.2,1841.1 1007.6,1843.3 1010.9,1845.5 1014.2,1847.8 1017.4,1850.2 1020.5,1852.7 1023.6,1855.2 1026.6,1857.9 1029.5,1860.6 1032.4,1863.4 1035.2,1866.2 1037.9,1869.1 1040.7,1872.1 1043.3,1875.0 1046.0,1878.0 1047.8,1881.6 1049.7,1885.2 1051.6,1888.8 1053.4,1892.3 1055.3,1895.9 1057.2,1899.5 1059.1,1903.1 1060.9,1906.6 1062.8,1910.2 1064.6,1913.8 1066.5,1917.4 1068.3,1921.0 1070.1,1924.6 1071.0,1926.4 1071.7,1930.3 1072.5,1934.3 1073.2,1938.2 1074.0,1942.1 1074.7,1946.1 1075.4,1950.0 1076.2,1953.9 1076.9,1957.9 1077.6,1961.8 1078.4,1965.7 1079.1,1969.7 1079.8,1973.6 1080.6,1977.5 1081.3,1981.4 1082.1,1985.4 1082.9,1989.3 1083.7,1993.2 1084.5,1997.1 1085.3,2001.0 1086.1,2005.0 1086.8,2008.9 1087.6,2012.8 1088.3,2016.8 1088.9,2020.7 1089.6,2024.7 1090.2,2028.6 1090.9,2032.6 1091.5,2036.5 1092.1,2040.5 1092.7,2044.4 1093.2,2048.4 1093.8,2052.4 1094.4,2056.3 1094.9,2060.3 1095.5,2064.2 1096.0,2068.2 1096.6,2072.2 1097.1,2076.1 1097.6,2080.1 1098.1,2084.1 1098.6,2088.0 1099.1,2092.0 1099.6,2096.0 1100.1,2099.9 1100.6,2103.9 1101.1,2107.9 1101.6,2111.9 1102.0,2115.8 1102.5,2119.8 1102.9,2123.8 1103.4,2127.8 1103.8,2131.7 1104.2,2135.7 1104.6,2139.7 1105.0,2143.7 1105.3,2147.7 1105.6,2151.7 1106.0,2155.6 1106.3,2159.6 1106.6,2163.6 1106.9,2167.6 1107.1,2171.6 1107.4,2175.6 1107.7,2179.6 1108.0,2183.6 1108.3,2187.6 1108.6,2191.5 1108.9,2195.5 1109.2,2199.5 1109.6,2203.5 1109.9,2207.5 1110.2,2211.5 1110.6,2215.5 1110.9,2219.5 1111.2,2223.4 1111.6,2227.4 1111.9,2231.4 1112.3,2235.4 1112.6,2239.4 1112.9,2243.4 1113.2,2247.4 1113.5,2251.4 1113.8,2255.3 1114.0,2259.3 1114.3,2263.3 1114.6,2267.3 1114.9,2271.3 1115.3,2275.3 1115.9,2279.2 1116.7,2283.2 1117.6,2287.1 1118.6,2290.9 1119.8,2294.7 1121.0,2298.5 1122.3,2302.3 1123.7,2306.1 1125.0,2309.9 1126.4,2313.6 1127.8,2317.4 1129.2,2321.1 1130.7,2324.8 1132.2,2328.5 1133.7,2332.2 1135.2,2335.9 1136.8,2339.6 1138.3,2343.3 1140.0,2347.0 1141.7,2350.6 1143.5,2354.1 1145.5,2357.6 1147.6,2361.0 1149.9,2364.2 1152.4,2367.4 1154.9,2370.5 1157.4,2373.6 1159.9,2376.7 1162.4,2379.9 1164.7,2383.1 1166.9,2386.5 1169.0,2389.9 1171.0,2393.3 1173.0,2396.8 1175.0,2400.3 1177.0,2403.7 1178.9,2407.2 1180.9,2410.7 1182.8,2414.2 1184.7,2417.8 1186.6,2421.3 1188.4,2424.8 1190.3,2428.4 1192.2,2431.9 1194.2,2435.4 1196.2,2438.8 1198.4,2442.2 1200.7,2445.5 1203.1,2448.7 1205.6,2451.8 1208.1,2454.8 1210.8,2457.8 1213.5,2460.8 1216.2,2463.7 1219.0,2466.6 1221.8,2469.5 1224.6,2472.3 1227.4,2475.2 1230.3,2478.0 1233.1,2480.8 1236.0,2483.5 1238.9,2486.3 1241.9,2489.0 1244.8,2491.7 1247.8,2494.3 1250.8,2496.9 1253.9,2499.6 1256.9,2502.2 1260.0,2504.8 1263.0,2507.3 1266.1,2509.9 1269.2,2512.4 1272.4,2514.9 1275.5,2517.4 1278.6,2519.8 1281.8,2522.3 1284.9,2524.8 1288.1,2527.3 1291.2,2529.8 1294.2,2532.3 1297.3,2534.9 1300.4,2537.5 1303.4,2540.1 1306.4,2542.7 1309.5,2545.3 1312.5,2547.9 1315.6,2550.5 1318.6,2553.1 1321.6,2555.7 1324.6,2558.4 1327.7,2561.0 1330.8,2563.5 1334.0,2565.9 1337.3,2568.1 1340.8,2570.0 1344.4,2571.7 1348.1,2573.2 1351.9,2574.5 1355.7,2575.6 1359.6,2576.7 1363.4,2577.8 1367.3,2578.8 1371.2,2579.7 1375.1,2580.6 1379.0,2581.5 1382.9,2582.2 1386.9,2582.9 1390.8,2583.6 1394.8,2584.1 1398.8,2584.6 1402.7,2585.0 1406.7,2585.5 1410.7,2585.9 1414.7,2586.3 1418.7,2586.6 1422.6,2587.0 1426.6,2587.4 1430.6,2587.7 1434.6,2588.1 1438.6,2588.4 1442.6,2588.7 1446.6,2589.0 1450.6,2589.2 1454.5,2589.5 1458.5,2589.8 1462.5,2590.0 1466.5,2590.2 1470.5,2590.5 1474.5,2590.7 1478.5,2590.9 1482.5,2591.2 1486.5,2591.4 1490.5,2591.6 1494.5,2591.8 1498.5,2592.0 1502.5,2592.2 1506.5,2592.4 1510.5,2592.6 1514.5,2592.7 1518.5,2592.9 1522.5,2593.1 1526.5,2593.3 1530.5,2593.4 1534.5,2593.6 1538.5,2593.8 1542.4,2593.9 1546.4,2594.1 1550.4,2594.2 1554.4,2594.3 1558.4,2594.4 1562.4,2594.6 1566.4,2594.7 1570.4,2594.8 1574.4,2594.9 1578.4,2595.0 1582.4,2595.1 1586.4,2595.2 1590.4,2595.2 1594.4,2595.3 1598.4,2595.4 1602.4,2595.5 1606.4,2595.5 1610.4,2595.6 1614.4,2595.7 1618.4,2595.7 1622.4,2595.8 1626.4,2595.9 1630.4,2595.9 1634.4,2596.0 1638.4,2596.0 1642.4,2596.1 1646.4,2596.1 1650.4,2596.2 1654.4,2596.2 1658.4,2596.3 1662.4,2596.3 1666.4,2596.4 1670.4,2596.4 1674.4,2596.4 1678.4,2596.5 1682.4,2596.5 1686.4,2596.5 1690.4,2596.6 1694.4,2596.6 1698.4,2596.6 1702.4,2596.6 1706.4,2596.7 1710.4,2596.7 1714.4,2596.7 1718.4,2596.7 1722.4,2596.8 1726.4,2596.8 1730.4,2596.8 1734.4,2596.8 1738.4,2596.8 1742.4,2596.9 1746.4,2596.9 1750.4,2596.9 1754.5,2596.9 1758.5,2596.9 1762.5,2596.9 1766.5,2596.9 1770.5,2597.0 1774.5,2597.0 1778.5,2597.0 1782.5,2597.0 1786.5,2597.0 1790.5,2597.0 1794.5,2597.0 1798.5,2597.1 1802.5,2597.1 1806.5,2597.1 1810.5,2597.1 1814.5,2597.1 1818.5,2597.1 1822.5,2597.1 1826.5,2597.1 1830.5,2597.1 1834.5,2597.1 1838.5,2597.1 1842.5,2597.1 1846.5,2597.2 1850.5,2597.2 1854.5,2597.2 1858.5,2597.2 1862.5,2597.2 1866.5,2597.2 1870.5,2597.2 1874.5,2597.2 1878.5,2597.2 1882.5,2597.2 1886.5,2597.2 1890.5,2597.2 1894.5,2597.2 1898.5,2597.2 1902.5,2597.2 1906.5,2597.2 1910.5,2597.2 1914.5,2597.2 1918.5,2597.2 1922.5,2597.2 1926.5,2597.2 1930.5,2597.2 1934.5,2597.2 1938.5,2597.2 1942.5,2597.2 1946.5,2597.2 1950.5,2597.2 1954.5,2597.2 1958.5,2597.2 1962.5,2597.2 1966.5,2597.2 1970.5,2597.2 1974.5,2597.2 1978.5,2597.2 1982.5,2597.2 1986.5,2597.2 1990.5,2597.2 1994.5,2597.2 1998.5,2597.2 2002.5,2597.2 2006.5,2597.2 2010.5,2597.2 2014.5,2597.2 2018.5,2597.2 2022.5,2597.2 2026.5,2597.2 2030.5,2597.2 2034.5,2597.2 2038.5,2597.2 2042.5,2597.2 2046.5,2597.2 2050.5,2597.2 2054.5,2597.2 2058.5,2597.2 2062.5,2597.2 2066.5,2597.2 2070.5,2597.2 2074.5,2597.2 2078.5,2597.2 2082.5,2597.2 2086.5,2597.2 2090.5,2597.2 2094.5,2597.2" stroke="#9000ff" stroke-width="13"/>
</g>
<g stroke="#000" stroke-width="10" stroke-linecap="round" fill="none">
<line x1="401.4" y1="3072.2" x2="401.4" y2="3044.2"/>
<line x1="648.1" y1="3072.2" x2="648.1" y2="3044.2"/>
<line x1="894.9" y1="3072.2" x2="894.9" y2="3044.2"/>
<line x1="1141.6" y1="3072.2" x2="1141.6" y2="3044.2"/>
<line x1="1388.4" y1="3072.2" x2="1388.4" y2="3044.2"/>
<line x1="1635.1" y1="3072.2" x2="1635.1" y2="3044.2"/>
<line x1="1881.9" y1="3072.2" x2="1881.9" y2="3044.2"/>
<line x1="2128.6" y1="3072.2" x2="2128.6" y2="3044.2"/>
<line x1="524.7" y1="3072.2" x2="524.7" y2="3057.7"/>
<line x1="771.5" y1="3072.2" x2="771.5" y2="3057.7"/>
<line x1="1018.2" y1="3072.2" x2="1018.2" y2="3057.7"/>
<line x1="1265.0" y1="3072.2" x2="1265.0" y2="3057.7"/>
<line x1="1511.7" y1="3072.2" x2="1511.7" y2="3057.7"/>
<line x1="1758.5" y1="3072.2" x2="1758.5" y2="3057.7"/>
<line x1="2005.2" y1="3072.2" x2="2005.2" y2="3057.7"/>
<line x1="278.0" y1="2956.9" x2="306.0" y2="2956.9"/>
<line x1="278.0" y1="2726.4" x2="306.0" y2="2726.4"/>
<line x1="278.0" y1="2495.9" x2="306.0" y2="2495.9"/>
<line x1="278.0" y1="2265.4" x2="306.0" y2="2265.4"/>
<line x1="278.0" y1="2035.0" x2="306.0" y2="2035.0"/>
<line x1="278.0" y1="1804.5" x2="306.0" y2="1804.5"/>
<line x1="278.0" y1="2841.7" x2="292.5" y2="2841.7"/>
<line x1="278.0" y1="2611.2" x2="292.5" y2="2611.2"/>
<line x1="278.0" y1="2380.7" x2="292.5" y2="2380.7"/>
<line x1="278.0" y1="2150.2" x2="292.5" y2="2150.2"/>
<line x1="278.0" y1="1919.7" x2="292.5" y2="1919.7"/>
</g>
<rect x="278.0" y="1689.2" width="1850.6" height="1383.0" fill="none" stroke="#000" stroke-width="10.3" stroke-linejoin="round"/>
<text transform="translate(400.4,3191.0) scale(1.04,1.0)" font-size="120" text-anchor="middle">100</text>
<text transform="translate(647.1,3191.0) scale(1.04,1.0)" font-size="120" text-anchor="middle">200</text>
<text transform="translate(893.9,3191.0) scale(1.04,1.0)" font-size="120" text-anchor="middle">300</text>
<text transform="translate(1140.6,3191.0) scale(1.04,1.0)" font-size="120" text-anchor="middle">400</text>
<text transform="translate(1387.4,3191.0) scale(1.04,1.0)" font-size="120" text-anchor="middle">500</text>
<text transform="translate(1634.1,3191.0) scale(1.04,1.0)" font-size="120" text-anchor="middle">600</text>
<text transform="translate(1880.9,3191.0) scale(1.04,1.0)" font-size="120" text-anchor="middle">700</text>
<text transform="translate(2127.6,3191.0) scale(1.04,1.0)" font-size="120" text-anchor="middle">800</text>
<text transform="translate(248.5,2991.4) scale(1.055,1.0)" font-size="120" text-anchor="end">0</text>
<text transform="translate(248.5,2760.9) scale(1.055,1.0)" font-size="120" text-anchor="end">20</text>
<text transform="translate(248.5,2530.4) scale(1.055,1.0)" font-size="120" text-anchor="end">40</text>
<text transform="translate(248.5,2299.9) scale(1.055,1.0)" font-size="120" text-anchor="end">60</text>
<text transform="translate(248.5,2069.4) scale(1.055,1.0)" font-size="120" text-anchor="end">80</text>
<text transform="translate(248.5,1839.0) scale(1.055,1.0)" font-size="120" text-anchor="end">100</text>
<text transform="translate(899.5,3285.7) scale(1.045,1)" font-size="119.5">Temp. (<tspan dy="-32" font-size="112">o</tspan><tspan dy="32">C)</tspan></text>
<text transform="translate(102.5,2739.5) rotate(-90) scale(1.275,1)" font-size="106.5" x="0.0 92.5 130.2 156.1 202.4 252.9 282.4 302.0 332.5 423.5">Weight (%)</text>
<line x1="319.5" y1="2896.0" x2="503.5" y2="2896.0" stroke="#0000ff" stroke-width="10" stroke-linecap="round"/>
<ellipse cx="411.0" cy="2896.0" rx="29.0" ry="27.9" fill="#0000ff"/>
<text transform="translate(523.5,2922.5) scale(1.03,1.0)" font-size="80" text-anchor="start">PU-RH/OP (exp.)</text>
<line x1="319.5" y1="2990.6" x2="503.5" y2="2990.6" stroke="#00ff00" stroke-width="10" stroke-linecap="round"/>
<path d="M376.0,2990.6 L411.0,2958.0 L446.0,2990.6 L411.0,3023.2Z" fill="#00ff00" stroke="#00ff00" stroke-width="4" stroke-linejoin="round"/>
<text transform="translate(523.5,3019.0) scale(1.03,1.0)" font-size="80" text-anchor="start">PU-RH/OP (calc.)</text>
<text transform="translate(637.0,2461.6) scale(1.05,1.0)" font-size="79" text-anchor="start">PU-RH</text>
<line x1="936.0" y1="2432.0" x2="1079.0" y2="2432.0" stroke="#6e6e6e" stroke-width="4"/>
<polygon points="903.6,2432 938.6,2422.5 938.6,2441.5" fill="#000"/>
<text transform="translate(1211.0,1866.3) scale(1.045,1.0)" font-size="80" text-anchor="start">OP</text>
<line x1="1023.0" y1="1836.4" x2="1170.0" y2="1836.4" stroke="#6e6e6e" stroke-width="4"/>
<polygon points="1201.8,1836.4 1166,1826.5 1166,1846.3" fill="#000"/>
</g>
</g>
</svg>
</body></html>
